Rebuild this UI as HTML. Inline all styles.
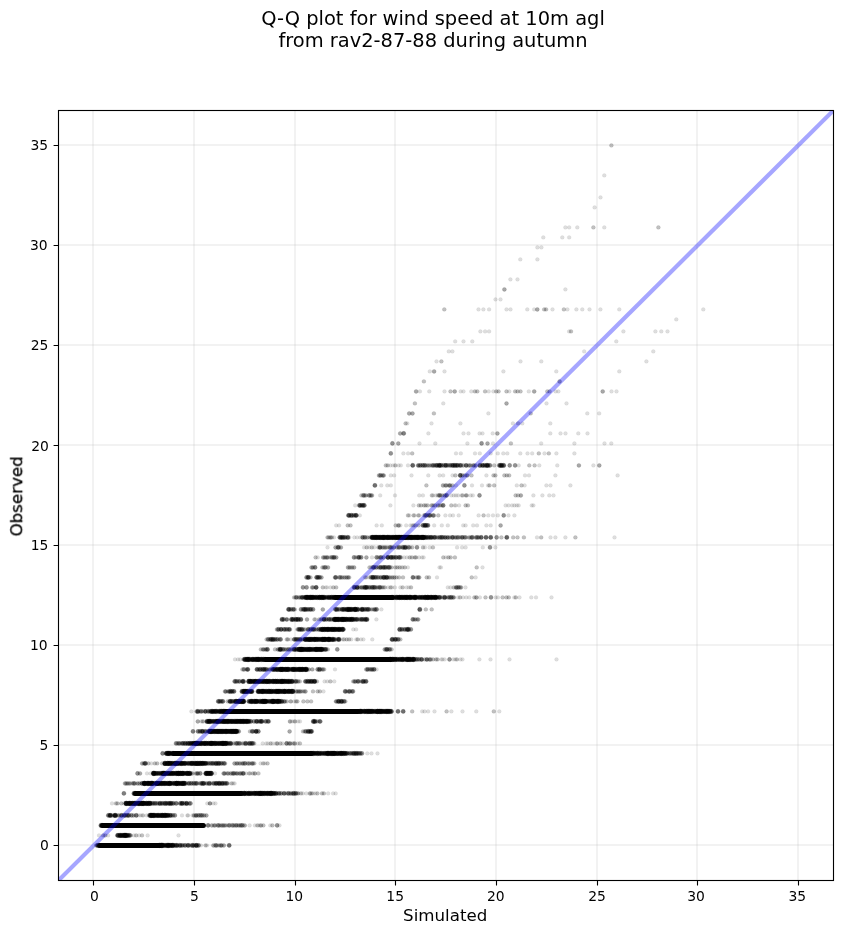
<!DOCTYPE html>
<html><head><meta charset="utf-8"><title>Q-Q plot</title>
<style>
html,body{margin:0;padding:0;background:#fff}
svg{display:block}
text{font-family:"DejaVu Sans","Liberation Sans",sans-serif;fill:#000}
.t{font-size:19.44px}
.al{font-size:16.67px}
.tl text{font-size:13.89px}
.grid path{stroke:#b0b0b0;stroke-opacity:.17;stroke-width:2;fill:none}
.tk path{stroke:#000;stroke-width:1.11;fill:none}
.pts circle{fill:#000;stroke:#000;stroke-width:.5}
.pts .s{stroke:#000;stroke-width:5;stroke-linecap:round;fill:none}
.w1{fill-opacity:0.130;stroke-opacity:0.078}.w2{fill-opacity:0.243;stroke-opacity:0.146}.w3{fill-opacity:0.341;stroke-opacity:0.205}.w4{fill-opacity:0.427;stroke-opacity:0.256}.w5{fill-opacity:0.502;stroke-opacity:0.301}.w6{fill-opacity:0.566;stroke-opacity:0.340}.w7{fill-opacity:0.623;stroke-opacity:0.374}.w8{fill-opacity:0.672;stroke-opacity:0.403}.w10{fill-opacity:0.752;stroke-opacity:0.451}.w12{fill-opacity:0.812;stroke-opacity:0.487}.w14{fill-opacity:0.858;stroke-opacity:0.515}
</style></head><body>
<svg width="843" height="934" viewBox="0 0 843 934">
<rect width="843" height="934" fill="#fff"/>
<g class="grid"><path d="M93 110.5V880.5M58.5 845H833.5"/><path d="M194 110.5V880.5M58.5 745H833.5"/><path d="M295 110.5V880.5M58.5 645H833.5"/><path d="M395 110.5V880.5M58.5 545H833.5"/><path d="M496 110.5V880.5M58.5 445H833.5"/><path d="M597 110.5V880.5M58.5 345H833.5"/><path d="M697 110.5V880.5M58.5 245H833.5"/><path d="M798 110.5V880.5M58.5 145H833.5"/></g>
<clipPath id="c"><rect x="58.5" y="110.5" width="775.0" height="770.0"/></clipPath>
<g class="pts" clip-path="url(#c)">
<g transform="translate(0,845.4)"><circle class="w3" cx="96.3" r="2.00"/><circle class="w5" cx="97.5" r="2.07"/><path class="s" d="M100.0 0H159.0"/><circle class="w8" cx="98.5" r="2.18"/><circle class="w8" cx="99.7" r="2.18"/><circle class="w8" cx="159.0" r="2.18"/><circle class="w14" cx="159.7" r="2.32"/><circle class="w14" cx="161.1" r="2.32"/><circle class="w12" cx="161.7" r="2.32"/><circle class="w12" cx="162.6" r="2.32"/><circle class="w8" cx="163.9" r="2.18"/><circle class="w6" cx="165.2" r="2.11"/><circle class="w8" cx="166.3" r="2.18"/><circle class="w10" cx="167.5" r="2.25"/><circle class="w14" cx="168.4" r="2.32"/><circle class="w8" cx="169.7" r="2.18"/><circle class="w8" cx="170.4" r="2.18"/><circle class="w6" cx="171.5" r="2.11"/><circle class="w12" cx="172.8" r="2.32"/><circle class="w4" cx="173.0" r="2.04"/><circle class="w4" cx="175.0" r="2.04"/><circle class="w8" cx="176.3" r="2.18"/><circle class="w4" cx="177.4" r="2.04"/><circle class="w8" cx="179.9" r="2.18"/><circle class="w2" cx="181.1" r="1.97"/><circle class="w4" cx="182.2" r="2.04"/><circle class="w2" cx="183.5" r="1.97"/><circle class="w6" cx="185.1" r="2.11"/><circle class="w4" cx="187.7" r="2.04"/><circle class="w5" cx="188.5" r="2.07"/><circle class="w2" cx="190.3" r="1.97"/><circle class="w8" cx="192.4" r="2.18"/><circle class="w4" cx="193.8" r="2.04"/><circle class="w5" cx="195.9" r="2.07"/><circle class="w8" cx="196.6" r="2.18"/><circle class="w4" cx="198.6" r="2.04"/><circle class="w1" cx="198.6" r="1.93"/><circle class="w1" cx="200.9" r="1.93"/><circle class="w2" cx="205.6" r="1.97"/><circle class="w1" cx="207.0" r="1.93"/><circle class="w3" cx="213.4" r="2.00"/><circle class="w4" cx="215.6" r="2.04"/><circle class="w3" cx="216.9" r="2.00"/><circle class="w2" cx="218.9" r="1.97"/><circle class="w3" cx="220.6" r="2.00"/><circle class="w3" cx="221.6" r="2.00"/><circle class="w3" cx="223.8" r="2.00"/><circle class="w6" cx="229.2" r="2.11"/></g>
<g transform="translate(0,835.4)"><circle class="w1" cx="99.0" r="1.93"/><circle class="w2" cx="103.2" r="1.97"/><circle class="w2" cx="105.3" r="1.97"/><circle class="w1" cx="108.1" r="1.93"/><circle class="w6" cx="117.5" r="2.11"/><circle class="w6" cx="118.2" r="2.11"/><circle class="w10" cx="119.9" r="2.25"/><circle class="w8" cx="120.8" r="2.18"/><circle class="w10" cx="122.1" r="2.25"/><circle class="w12" cx="124.0" r="2.32"/><circle class="w12" cx="125.1" r="2.32"/><circle class="w8" cx="125.9" r="2.18"/><circle class="w10" cx="126.8" r="2.25"/><circle class="w6" cx="128.2" r="2.11"/><circle class="w6" cx="129.6" r="2.11"/><circle class="w2" cx="130.8" r="1.97"/><circle class="w1" cx="134.0" r="1.93"/><circle class="w2" cx="136.2" r="1.97"/><circle class="w1" cx="139.2" r="1.93"/><circle class="w2" cx="142.0" r="1.97"/><circle class="w1" cx="147.6" r="1.93"/><circle class="w1" cx="178.5" r="1.93"/></g>
<g transform="translate(0,825.4)"><path class="s" d="M102.5 0H203.4"/><circle class="w8" cx="101.0" r="2.18"/><circle class="w8" cx="102.2" r="2.18"/><circle class="w5" cx="208.1" r="2.07"/><circle class="w3" cx="211.8" r="2.00"/><circle class="w3" cx="214.2" r="2.00"/><circle class="w2" cx="215.3" r="1.97"/><circle class="w4" cx="218.0" r="2.04"/><circle class="w3" cx="219.4" r="2.00"/><circle class="w3" cx="221.5" r="2.00"/><circle class="w3" cx="223.0" r="2.00"/><circle class="w3" cx="224.5" r="2.00"/><circle class="w2" cx="226.2" r="1.97"/><circle class="w2" cx="228.0" r="1.97"/><circle class="w4" cx="229.5" r="2.04"/><circle class="w4" cx="232.4" r="2.04"/><circle class="w3" cx="234.2" r="2.00"/><circle class="w4" cx="236.2" r="2.04"/><circle class="w2" cx="237.7" r="1.97"/><circle class="w3" cx="239.1" r="2.00"/><circle class="w4" cx="240.9" r="2.04"/><circle class="w4" cx="242.5" r="2.04"/><circle class="w3" cx="244.7" r="2.00"/><circle class="w1" cx="249.6" r="1.93"/><circle class="w1" cx="254.9" r="1.93"/><circle class="w2" cx="257.4" r="1.97"/><circle class="w1" cx="259.2" r="1.93"/><circle class="w3" cx="260.9" r="2.00"/><circle class="w2" cx="263.4" r="1.97"/><circle class="w1" cx="270.3" r="1.93"/><circle class="w2" cx="272.4" r="1.97"/><circle class="w4" cx="277.1" r="2.04"/><circle class="w1" cx="279.5" r="1.93"/></g>
<g transform="translate(0,815.4)"><circle class="w6" cx="108.4" r="2.11"/><circle class="w6" cx="110.0" r="2.11"/><circle class="w6" cx="110.4" r="2.11"/><circle class="w3" cx="111.8" r="2.00"/><circle class="w3" cx="113.9" r="2.00"/><circle class="w8" cx="114.9" r="2.18"/><circle class="w8" cx="115.6" r="2.18"/><circle class="w2" cx="117.8" r="1.97"/><circle class="w3" cx="119.2" r="2.00"/><circle class="w6" cx="121.4" r="2.11"/><circle class="w2" cx="122.1" r="1.97"/><circle class="w6" cx="124.3" r="2.11"/><circle class="w4" cx="125.6" r="2.04"/><circle class="w5" cx="127.5" r="2.07"/><circle class="w6" cx="128.8" r="2.11"/><circle class="w4" cx="131.5" r="2.04"/><circle class="w3" cx="133.5" r="2.00"/><circle class="w6" cx="136.3" r="2.11"/><circle class="w1" cx="139.0" r="1.93"/><circle class="w1" cx="140.9" r="1.93"/><circle class="w2" cx="142.9" r="1.97"/><circle class="w1" cx="146.7" r="1.93"/><circle class="w2" cx="149.0" r="1.97"/><circle class="w12" cx="150.3" r="2.32"/><circle class="w12" cx="151.4" r="2.32"/><circle class="w8" cx="152.2" r="2.18"/><circle class="w14" cx="153.4" r="2.32"/><circle class="w10" cx="154.5" r="2.25"/><circle class="w6" cx="155.8" r="2.11"/><circle class="w6" cx="156.7" r="2.11"/><circle class="w10" cx="157.8" r="2.25"/><circle class="w8" cx="158.7" r="2.18"/><circle class="w10" cx="160.2" r="2.25"/><circle class="w8" cx="162.0" r="2.18"/><circle class="w12" cx="162.3" r="2.32"/><circle class="w10" cx="164.3" r="2.25"/><circle class="w14" cx="165.3" r="2.32"/><circle class="w6" cx="166.7" r="2.11"/><circle class="w8" cx="167.8" r="2.18"/><circle class="w6" cx="168.3" r="2.11"/><circle class="w6" cx="170.2" r="2.11"/><circle class="w4" cx="171.0" r="2.04"/><circle class="w4" cx="172.9" r="2.04"/><circle class="w4" cx="174.9" r="2.04"/><circle class="w1" cx="182.0" r="1.93"/><circle class="w1" cx="187.4" r="1.93"/><circle class="w1" cx="188.1" r="1.93"/><circle class="w1" cx="192.5" r="1.93"/><circle class="w3" cx="194.0" r="2.00"/><circle class="w3" cx="195.9" r="2.00"/><circle class="w3" cx="196.2" r="2.00"/><circle class="w4" cx="198.3" r="2.04"/><circle class="w4" cx="200.4" r="2.04"/><circle class="w4" cx="202.1" r="2.04"/><circle class="w3" cx="204.1" r="2.00"/><circle class="w3" cx="206.4" r="2.00"/></g>
<g transform="translate(0,803.4)"><circle class="w1" cx="112.0" r="1.93"/><circle class="w2" cx="116.0" r="1.97"/><circle class="w2" cx="117.5" r="1.97"/><circle class="w2" cx="121.3" r="1.97"/><circle class="w1" cx="123.8" r="1.93"/><circle class="w12" cx="126.0" r="2.32"/><circle class="w10" cx="126.7" r="2.25"/><circle class="w8" cx="128.4" r="2.18"/><circle class="w8" cx="129.6" r="2.18"/><circle class="w12" cx="129.9" r="2.32"/><circle class="w8" cx="131.1" r="2.18"/><circle class="w6" cx="132.5" r="2.11"/><circle class="w12" cx="132.9" r="2.32"/><circle class="w10" cx="134.5" r="2.25"/><circle class="w14" cx="135.4" r="2.32"/><circle class="w8" cx="137.4" r="2.18"/><circle class="w14" cx="138.6" r="2.32"/><circle class="w12" cx="139.4" r="2.32"/><circle class="w8" cx="140.7" r="2.18"/><circle class="w14" cx="141.7" r="2.32"/><circle class="w14" cx="142.9" r="2.32"/><circle class="w14" cx="143.6" r="2.32"/><circle class="w6" cx="145.1" r="2.11"/><circle class="w8" cx="146.4" r="2.18"/><circle class="w10" cx="146.8" r="2.25"/><circle class="w12" cx="148.6" r="2.32"/><circle class="w14" cx="150.1" r="2.32"/><circle class="w2" cx="152.0" r="1.97"/><circle class="w6" cx="153.1" r="2.11"/><circle class="w6" cx="155.1" r="2.11"/><circle class="w4" cx="157.0" r="2.04"/><circle class="w3" cx="159.0" r="2.00"/><circle class="w8" cx="160.1" r="2.18"/><circle class="w5" cx="162.1" r="2.07"/><circle class="w4" cx="163.8" r="2.04"/><circle class="w8" cx="165.4" r="2.18"/><circle class="w4" cx="166.7" r="2.04"/><circle class="w4" cx="168.2" r="2.04"/><circle class="w5" cx="169.2" r="2.07"/><circle class="w8" cx="170.5" r="2.18"/><circle class="w5" cx="171.7" r="2.07"/><circle class="w5" cx="173.4" r="2.07"/><circle class="w6" cx="176.2" r="2.11"/><circle class="w6" cx="180.3" r="2.11"/><circle class="w5" cx="181.8" r="2.07"/><circle class="w6" cx="182.4" r="2.11"/><circle class="w4" cx="184.4" r="2.04"/><circle class="w3" cx="186.5" r="2.00"/><circle class="w8" cx="186.7" r="2.18"/><circle class="w3" cx="189.3" r="2.00"/><circle class="w4" cx="190.5" r="2.04"/><circle class="w1" cx="207.3" r="1.93"/><circle class="w2" cx="209.9" r="1.97"/><circle class="w2" cx="210.1" r="1.97"/><circle class="w1" cx="213.3" r="1.93"/><circle class="w1" cx="215.5" r="1.93"/></g>
<g transform="translate(0,793.4)"><circle class="w5" cx="123.9" r="2.07"/><path class="s" d="M135.5 0H241.0"/><circle class="w8" cx="134.0" r="2.18"/><circle class="w8" cx="135.2" r="2.18"/><circle class="w10" cx="241.0" r="2.25"/><circle class="w8" cx="242.1" r="2.18"/><circle class="w10" cx="244.1" r="2.25"/><circle class="w12" cx="244.5" r="2.32"/><circle class="w10" cx="246.5" r="2.25"/><circle class="w6" cx="248.1" r="2.11"/><circle class="w10" cx="248.6" r="2.25"/><circle class="w10" cx="249.9" r="2.25"/><circle class="w10" cx="251.2" r="2.25"/><circle class="w6" cx="252.7" r="2.11"/><circle class="w14" cx="254.3" r="2.32"/><circle class="w6" cx="255.6" r="2.11"/><circle class="w14" cx="256.9" r="2.32"/><circle class="w10" cx="258.5" r="2.25"/><circle class="w14" cx="259.9" r="2.32"/><circle class="w10" cx="260.4" r="2.25"/><circle class="w10" cx="261.3" r="2.25"/><circle class="w12" cx="262.4" r="2.32"/><circle class="w8" cx="263.8" r="2.18"/><circle class="w14" cx="264.8" r="2.32"/><circle class="w8" cx="266.7" r="2.18"/><circle class="w12" cx="267.7" r="2.32"/><circle class="w8" cx="269.0" r="2.18"/><circle class="w6" cx="269.8" r="2.11"/><circle class="w14" cx="270.8" r="2.32"/><circle class="w12" cx="271.5" r="2.32"/><circle class="w8" cx="273.3" r="2.18"/><circle class="w6" cx="274.0" r="2.11"/><circle class="w4" cx="275.1" r="2.04"/><circle class="w8" cx="276.2" r="2.18"/><circle class="w2" cx="278.5" r="1.97"/><circle class="w5" cx="279.2" r="2.07"/><circle class="w4" cx="281.2" r="2.04"/><circle class="w2" cx="283.6" r="1.97"/><circle class="w5" cx="284.3" r="2.07"/><circle class="w2" cx="286.5" r="1.97"/><circle class="w6" cx="288.4" r="2.11"/><circle class="w3" cx="290.4" r="2.00"/><circle class="w3" cx="291.5" r="2.00"/><circle class="w8" cx="293.6" r="2.18"/><circle class="w5" cx="295.6" r="2.07"/><circle class="w2" cx="296.7" r="1.97"/><circle class="w2" cx="298.0" r="1.97"/><circle class="w1" cx="298.5" r="1.93"/><circle class="w2" cx="301.0" r="1.97"/><circle class="w1" cx="302.9" r="1.93"/><circle class="w1" cx="306.3" r="1.93"/><circle class="w3" cx="310.0" r="2.00"/><circle class="w2" cx="311.7" r="1.97"/><circle class="w1" cx="313.3" r="1.93"/><circle class="w1" cx="315.4" r="1.93"/><circle class="w2" cx="317.4" r="1.97"/><circle class="w2" cx="322.0" r="1.97"/><circle class="w2" cx="323.9" r="1.97"/><circle class="w1" cx="328.2" r="1.93"/><circle class="w1" cx="333.1" r="1.93"/><circle class="w1" cx="335.7" r="1.93"/></g>
<g transform="translate(0,783.4)"><circle class="w3" cx="125.0" r="2.00"/><circle class="w3" cx="126.4" r="2.00"/><circle class="w3" cx="128.0" r="2.00"/><circle class="w3" cx="129.8" r="2.00"/><circle class="w2" cx="131.9" r="1.97"/><circle class="w4" cx="133.7" r="2.04"/><circle class="w3" cx="134.9" r="2.00"/><circle class="w3" cx="137.5" r="2.00"/><circle class="w3" cx="139.4" r="2.00"/><circle class="w3" cx="141.6" r="2.00"/><circle class="w4" cx="142.2" r="2.04"/><circle class="w4" cx="144.0" r="2.04"/><circle class="w12" cx="144.4" r="2.32"/><circle class="w10" cx="144.5" r="2.25"/><circle class="w6" cx="145.8" r="2.11"/><circle class="w12" cx="147.3" r="2.32"/><circle class="w12" cx="148.5" r="2.32"/><circle class="w8" cx="149.3" r="2.18"/><circle class="w8" cx="150.6" r="2.18"/><circle class="w12" cx="151.5" r="2.32"/><circle class="w12" cx="152.1" r="2.32"/><circle class="w6" cx="152.6" r="2.11"/><circle class="w8" cx="154.1" r="2.18"/><circle class="w10" cx="156.1" r="2.25"/><circle class="w14" cx="156.8" r="2.32"/><circle class="w10" cx="158.0" r="2.25"/><circle class="w14" cx="159.1" r="2.32"/><circle class="w6" cx="160.9" r="2.11"/><circle class="w12" cx="161.4" r="2.32"/><circle class="w12" cx="163.0" r="2.32"/><circle class="w12" cx="164.8" r="2.32"/><circle class="w6" cx="165.3" r="2.11"/><circle class="w8" cx="167.0" r="2.18"/><circle class="w10" cx="167.9" r="2.25"/><circle class="w14" cx="169.5" r="2.32"/><circle class="w8" cx="169.9" r="2.18"/><circle class="w6" cx="170.8" r="2.11"/><circle class="w8" cx="172.4" r="2.18"/><circle class="w6" cx="174.2" r="2.11"/><circle class="w6" cx="174.5" r="2.11"/><circle class="w12" cx="176.4" r="2.32"/><circle class="w12" cx="176.7" r="2.32"/><circle class="w14" cx="178.4" r="2.32"/><circle class="w6" cx="179.9" r="2.11"/><circle class="w10" cx="181.0" r="2.25"/><circle class="w10" cx="182.3" r="2.25"/><circle class="w8" cx="183.2" r="2.18"/><circle class="w14" cx="184.2" r="2.32"/><circle class="w4" cx="186.0" r="2.04"/><circle class="w3" cx="188.1" r="2.00"/><circle class="w5" cx="189.4" r="2.07"/><circle class="w5" cx="191.4" r="2.07"/><circle class="w5" cx="193.6" r="2.07"/><circle class="w4" cx="195.3" r="2.04"/><circle class="w6" cx="196.7" r="2.11"/><circle class="w2" cx="199.3" r="1.97"/><circle class="w5" cx="201.1" r="2.07"/><circle class="w8" cx="202.7" r="2.18"/><circle class="w6" cx="204.0" r="2.11"/><circle class="w2" cx="206.1" r="1.97"/><circle class="w3" cx="207.3" r="2.00"/><circle class="w8" cx="209.3" r="2.18"/><circle class="w2" cx="211.2" r="1.97"/><circle class="w4" cx="213.4" r="2.04"/><circle class="w3" cx="214.5" r="2.00"/><circle class="w5" cx="215.9" r="2.07"/><circle class="w5" cx="216.6" r="2.07"/><circle class="w6" cx="218.5" r="2.11"/><circle class="w8" cx="219.7" r="2.18"/><circle class="w8" cx="222.0" r="2.18"/><circle class="w4" cx="223.4" r="2.04"/><circle class="w5" cx="225.1" r="2.07"/><circle class="w4" cx="226.6" r="2.04"/><circle class="w2" cx="227.0" r="1.97"/><circle class="w1" cx="228.1" r="1.93"/><circle class="w2" cx="231.6" r="1.97"/><circle class="w1" cx="233.3" r="1.93"/><circle class="w1" cx="234.6" r="1.93"/></g>
<g transform="translate(0,773.4)"><circle class="w4" cx="137.5" r="2.04"/><circle class="w3" cx="140.0" r="2.00"/><circle class="w1" cx="147.0" r="1.93"/><circle class="w1" cx="150.6" r="1.93"/><circle class="w14" cx="153.5" r="2.32"/><circle class="w12" cx="154.1" r="2.32"/><circle class="w8" cx="155.9" r="2.18"/><circle class="w6" cx="157.0" r="2.11"/><circle class="w6" cx="158.2" r="2.11"/><circle class="w6" cx="159.6" r="2.11"/><circle class="w8" cx="161.1" r="2.18"/><circle class="w14" cx="162.6" r="2.32"/><circle class="w12" cx="163.7" r="2.32"/><circle class="w12" cx="164.2" r="2.32"/><circle class="w10" cx="165.7" r="2.25"/><circle class="w8" cx="166.7" r="2.18"/><circle class="w6" cx="167.8" r="2.11"/><circle class="w12" cx="168.9" r="2.32"/><circle class="w10" cx="170.4" r="2.25"/><circle class="w8" cx="171.5" r="2.18"/><circle class="w12" cx="172.9" r="2.32"/><circle class="w6" cx="173.7" r="2.11"/><circle class="w8" cx="175.3" r="2.18"/><circle class="w12" cx="176.5" r="2.32"/><circle class="w12" cx="178.1" r="2.32"/><circle class="w12" cx="178.5" r="2.32"/><circle class="w14" cx="180.2" r="2.32"/><circle class="w8" cx="180.7" r="2.18"/><circle class="w14" cx="182.2" r="2.32"/><circle class="w12" cx="183.1" r="2.32"/><circle class="w6" cx="184.5" r="2.11"/><circle class="w6" cx="186.1" r="2.11"/><circle class="w12" cx="187.1" r="2.32"/><circle class="w8" cx="188.0" r="2.18"/><circle class="w8" cx="189.2" r="2.18"/><circle class="w10" cx="189.8" r="2.25"/><circle class="w3" cx="190.5" r="2.00"/><circle class="w3" cx="192.2" r="2.00"/><circle class="w3" cx="196.0" r="2.00"/><circle class="w3" cx="197.3" r="2.00"/><circle class="w3" cx="198.1" r="2.00"/><circle class="w4" cx="200.3" r="2.04"/><circle class="w8" cx="205.8" r="2.18"/><circle class="w14" cx="206.7" r="2.32"/><circle class="w12" cx="208.1" r="2.32"/><circle class="w6" cx="209.1" r="2.11"/><circle class="w12" cx="210.1" r="2.32"/><circle class="w12" cx="211.3" r="2.32"/><circle class="w1" cx="215.0" r="1.93"/><circle class="w3" cx="223.6" r="2.00"/><circle class="w3" cx="224.6" r="2.00"/><circle class="w2" cx="226.9" r="1.97"/><circle class="w3" cx="228.2" r="2.00"/><circle class="w3" cx="230.7" r="2.00"/><circle class="w3" cx="232.5" r="2.00"/><circle class="w4" cx="233.7" r="2.04"/><circle class="w2" cx="235.1" r="1.97"/><circle class="w2" cx="236.3" r="1.97"/><circle class="w3" cx="237.3" r="2.00"/><circle class="w3" cx="239.6" r="2.00"/><circle class="w3" cx="241.0" r="2.00"/><circle class="w4" cx="242.9" r="2.04"/><circle class="w3" cx="243.6" r="2.00"/><circle class="w1" cx="246.0" r="1.93"/><circle class="w2" cx="249.1" r="1.97"/><circle class="w1" cx="250.3" r="1.93"/><circle class="w2" cx="252.9" r="1.97"/><circle class="w3" cx="254.9" r="2.00"/><circle class="w1" cx="258.1" r="1.93"/><circle class="w1" cx="258.7" r="1.93"/></g>
<g transform="translate(0,763.4)"><circle class="w3" cx="142.2" r="2.00"/><circle class="w2" cx="143.9" r="1.97"/><circle class="w3" cx="144.7" r="2.00"/><circle class="w6" cx="145.5" r="2.11"/><circle class="w2" cx="148.4" r="1.97"/><circle class="w1" cx="151.3" r="1.93"/><circle class="w2" cx="154.8" r="1.97"/><circle class="w2" cx="157.2" r="1.97"/><circle class="w2" cx="162.2" r="1.97"/><circle class="w10" cx="164.9" r="2.25"/><circle class="w10" cx="165.1" r="2.25"/><circle class="w10" cx="167.3" r="2.25"/><circle class="w14" cx="168.1" r="2.32"/><circle class="w14" cx="169.8" r="2.32"/><circle class="w8" cx="171.0" r="2.18"/><circle class="w8" cx="172.1" r="2.18"/><circle class="w8" cx="172.9" r="2.18"/><circle class="w10" cx="174.9" r="2.25"/><circle class="w14" cx="175.5" r="2.32"/><circle class="w14" cx="177.0" r="2.32"/><circle class="w6" cx="178.1" r="2.11"/><circle class="w8" cx="179.2" r="2.18"/><circle class="w8" cx="180.4" r="2.18"/><circle class="w14" cx="181.7" r="2.32"/><circle class="w6" cx="182.9" r="2.11"/><circle class="w8" cx="184.2" r="2.18"/><circle class="w6" cx="184.9" r="2.11"/><circle class="w6" cx="185.7" r="2.11"/><circle class="w6" cx="187.6" r="2.11"/><circle class="w8" cx="189.0" r="2.18"/><circle class="w6" cx="190.5" r="2.11"/><circle class="w12" cx="191.9" r="2.32"/><circle class="w6" cx="192.4" r="2.11"/><circle class="w6" cx="193.9" r="2.11"/><circle class="w10" cx="195.1" r="2.25"/><circle class="w8" cx="195.8" r="2.18"/><circle class="w10" cx="197.0" r="2.25"/><circle class="w10" cx="197.8" r="2.25"/><circle class="w10" cx="199.1" r="2.25"/><circle class="w12" cx="200.4" r="2.32"/><circle class="w6" cx="201.9" r="2.11"/><circle class="w14" cx="202.8" r="2.32"/><circle class="w6" cx="204.4" r="2.11"/><circle class="w6" cx="205.5" r="2.11"/><circle class="w5" cx="206.0" r="2.07"/><circle class="w2" cx="206.8" r="1.97"/><circle class="w5" cx="208.2" r="2.07"/><circle class="w5" cx="210.4" r="2.07"/><circle class="w6" cx="212.2" r="2.11"/><circle class="w4" cx="213.6" r="2.04"/><circle class="w3" cx="215.5" r="2.00"/><circle class="w8" cx="216.2" r="2.18"/><circle class="w8" cx="218.4" r="2.18"/><circle class="w4" cx="219.7" r="2.04"/><circle class="w5" cx="221.5" r="2.07"/><circle class="w5" cx="223.8" r="2.07"/><circle class="w3" cx="225.0" r="2.00"/><circle class="w3" cx="234.5" r="2.00"/><circle class="w3" cx="236.7" r="2.00"/><circle class="w2" cx="238.0" r="1.97"/><circle class="w3" cx="239.9" r="2.00"/><circle class="w3" cx="242.2" r="2.00"/><circle class="w3" cx="243.6" r="2.00"/><circle class="w4" cx="245.1" r="2.04"/><circle class="w3" cx="247.8" r="2.00"/><circle class="w3" cx="249.4" r="2.00"/><circle class="w3" cx="251.8" r="2.00"/><circle class="w3" cx="252.9" r="2.00"/><circle class="w2" cx="254.3" r="1.97"/><circle class="w1" cx="260.6" r="1.93"/><circle class="w2" cx="263.2" r="1.97"/><circle class="w1" cx="265.0" r="1.93"/><circle class="w2" cx="267.5" r="1.97"/></g>
<g transform="translate(0,753.4)"><circle class="w5" cx="162.6" r="2.07"/><circle class="w6" cx="166.0" r="2.11"/><circle class="w12" cx="167.1" r="2.32"/><circle class="w10" cx="168.2" r="2.25"/><circle class="w14" cx="169.1" r="2.32"/><circle class="w8" cx="170.3" r="2.18"/><path class="s" d="M173.5 0H311.0"/><circle class="w8" cx="172.0" r="2.18"/><circle class="w8" cx="173.2" r="2.18"/><circle class="w14" cx="311.0" r="2.32"/><circle class="w8" cx="312.4" r="2.18"/><circle class="w14" cx="313.7" r="2.32"/><circle class="w6" cx="315.2" r="2.11"/><circle class="w6" cx="316.0" r="2.11"/><circle class="w12" cx="317.5" r="2.32"/><circle class="w10" cx="319.2" r="2.25"/><circle class="w6" cx="320.5" r="2.11"/><circle class="w8" cx="321.7" r="2.18"/><circle class="w6" cx="323.1" r="2.11"/><circle class="w6" cx="324.4" r="2.11"/><circle class="w8" cx="325.3" r="2.18"/><circle class="w8" cx="327.0" r="2.18"/><circle class="w14" cx="327.5" r="2.32"/><circle class="w12" cx="328.7" r="2.32"/><circle class="w10" cx="330.3" r="2.25"/><circle class="w12" cx="331.3" r="2.32"/><circle class="w12" cx="332.6" r="2.32"/><circle class="w14" cx="334.0" r="2.32"/><circle class="w10" cx="334.3" r="2.25"/><circle class="w6" cx="335.5" r="2.11"/><circle class="w10" cx="336.9" r="2.25"/><circle class="w10" cx="337.9" r="2.25"/><circle class="w14" cx="340.0" r="2.32"/><circle class="w12" cx="341.6" r="2.32"/><circle class="w6" cx="342.0" r="2.11"/><circle class="w12" cx="343.8" r="2.32"/><circle class="w8" cx="345.2" r="2.18"/><circle class="w5" cx="346.2" r="2.07"/><circle class="w6" cx="347.3" r="2.11"/><circle class="w5" cx="349.6" r="2.07"/><circle class="w4" cx="351.2" r="2.04"/><circle class="w5" cx="352.8" r="2.07"/><circle class="w8" cx="354.3" r="2.18"/><circle class="w8" cx="356.1" r="2.18"/><circle class="w5" cx="357.6" r="2.07"/><circle class="w4" cx="358.9" r="2.04"/><circle class="w5" cx="360.4" r="2.07"/><circle class="w4" cx="362.0" r="2.04"/><circle class="w1" cx="367.3" r="1.93"/><circle class="w1" cx="371.5" r="1.93"/><circle class="w1" cx="377.5" r="1.93"/></g>
<g transform="translate(0,743.4)"><circle class="w4" cx="176.0" r="2.04"/><circle class="w2" cx="177.2" r="1.97"/><circle class="w4" cx="178.6" r="2.04"/><circle class="w3" cx="180.0" r="2.00"/><circle class="w5" cx="182.0" r="2.07"/><circle class="w5" cx="183.4" r="2.07"/><circle class="w8" cx="185.3" r="2.18"/><circle class="w8" cx="187.7" r="2.18"/><circle class="w8" cx="189.4" r="2.18"/><circle class="w8" cx="191.0" r="2.18"/><circle class="w5" cx="192.1" r="2.07"/><circle class="w6" cx="193.0" r="2.11"/><circle class="w8" cx="193.8" r="2.18"/><circle class="w12" cx="195.3" r="2.32"/><circle class="w12" cx="196.1" r="2.32"/><circle class="w14" cx="197.1" r="2.32"/><circle class="w10" cx="198.5" r="2.25"/><circle class="w10" cx="200.1" r="2.25"/><circle class="w12" cx="201.4" r="2.32"/><circle class="w8" cx="203.2" r="2.18"/><circle class="w6" cx="204.5" r="2.11"/><circle class="w10" cx="204.8" r="2.25"/><circle class="w12" cx="206.3" r="2.32"/><circle class="w6" cx="208.1" r="2.11"/><circle class="w8" cx="208.7" r="2.18"/><circle class="w10" cx="210.2" r="2.25"/><circle class="w14" cx="211.2" r="2.32"/><circle class="w12" cx="212.1" r="2.32"/><circle class="w6" cx="213.2" r="2.11"/><circle class="w12" cx="214.7" r="2.32"/><circle class="w10" cx="216.0" r="2.25"/><circle class="w8" cx="217.4" r="2.18"/><circle class="w10" cx="219.0" r="2.25"/><circle class="w8" cx="220.0" r="2.18"/><circle class="w6" cx="221.2" r="2.11"/><circle class="w12" cx="222.2" r="2.32"/><circle class="w10" cx="223.0" r="2.25"/><circle class="w12" cx="223.9" r="2.32"/><circle class="w14" cx="225.7" r="2.32"/><circle class="w6" cx="226.1" r="2.11"/><circle class="w8" cx="227.5" r="2.18"/><circle class="w3" cx="229.2" r="2.00"/><circle class="w8" cx="230.3" r="2.18"/><circle class="w3" cx="231.5" r="2.00"/><circle class="w2" cx="233.8" r="1.97"/><circle class="w4" cx="236.1" r="2.04"/><circle class="w4" cx="237.5" r="2.04"/><circle class="w4" cx="239.3" r="2.04"/><circle class="w2" cx="240.3" r="1.97"/><circle class="w2" cx="242.5" r="1.97"/><circle class="w2" cx="244.0" r="1.97"/><circle class="w8" cx="245.7" r="2.18"/><circle class="w2" cx="247.8" r="1.97"/><circle class="w8" cx="249.7" r="2.18"/><circle class="w5" cx="251.6" r="2.07"/><circle class="w5" cx="252.8" r="2.07"/><circle class="w2" cx="254.2" r="1.97"/><circle class="w1" cx="262.7" r="1.93"/><circle class="w1" cx="266.2" r="1.93"/><circle class="w1" cx="267.9" r="1.93"/><circle class="w2" cx="270.6" r="1.97"/><circle class="w1" cx="272.6" r="1.93"/><circle class="w1" cx="275.6" r="1.93"/><circle class="w3" cx="277.2" r="2.00"/><circle class="w2" cx="280.4" r="1.97"/><circle class="w1" cx="282.6" r="1.93"/><circle class="w5" cx="286.6" r="2.07"/><circle class="w3" cx="289.0" r="2.00"/><circle class="w3" cx="290.4" r="2.00"/><circle class="w2" cx="293.1" r="1.97"/><circle class="w3" cx="294.7" r="2.00"/><circle class="w1" cx="297.6" r="1.93"/><circle class="w2" cx="299.9" r="1.97"/></g>
<g transform="translate(0,731.4)"><circle class="w5" cx="193.0" r="2.07"/><circle class="w5" cx="198.0" r="2.07"/><circle class="w5" cx="199.9" r="2.07"/><circle class="w6" cx="201.9" r="2.11"/><circle class="w6" cx="202.8" r="2.11"/><circle class="w6" cx="205.3" r="2.11"/><circle class="w2" cx="206.7" r="1.97"/><circle class="w4" cx="208.6" r="2.04"/><circle class="w8" cx="209.4" r="2.18"/><circle class="w14" cx="210.3" r="2.32"/><circle class="w12" cx="211.3" r="2.32"/><circle class="w10" cx="212.1" r="2.25"/><circle class="w6" cx="213.3" r="2.11"/><circle class="w14" cx="214.3" r="2.32"/><circle class="w14" cx="216.0" r="2.32"/><circle class="w10" cx="217.3" r="2.25"/><circle class="w12" cx="218.2" r="2.32"/><circle class="w8" cx="219.3" r="2.18"/><circle class="w12" cx="220.2" r="2.32"/><circle class="w10" cx="221.5" r="2.25"/><circle class="w12" cx="222.6" r="2.32"/><circle class="w10" cx="223.9" r="2.25"/><circle class="w14" cx="225.4" r="2.32"/><circle class="w14" cx="226.6" r="2.32"/><circle class="w8" cx="227.9" r="2.18"/><circle class="w8" cx="228.6" r="2.18"/><circle class="w14" cx="230.1" r="2.32"/><circle class="w14" cx="231.5" r="2.32"/><circle class="w12" cx="232.8" r="2.32"/><circle class="w12" cx="233.8" r="2.32"/><circle class="w14" cx="235.2" r="2.32"/><circle class="w14" cx="236.2" r="2.32"/><circle class="w6" cx="237.0" r="2.11"/><circle class="w4" cx="238.7" r="2.04"/><circle class="w2" cx="250.0" r="1.97"/><circle class="w6" cx="252.3" r="2.11"/><circle class="w2" cx="253.8" r="1.97"/><circle class="w5" cx="256.1" r="2.07"/><circle class="w6" cx="256.2" r="2.11"/><circle class="w5" cx="258.4" r="2.07"/><circle class="w3" cx="289.6" r="2.00"/><circle class="w2" cx="303.0" r="1.97"/><circle class="w2" cx="304.6" r="1.97"/><circle class="w4" cx="305.8" r="2.04"/><circle class="w8" cx="308.1" r="2.18"/><circle class="w3" cx="309.2" r="2.00"/><circle class="w8" cx="310.7" r="2.18"/><circle class="w4" cx="311.8" r="2.04"/></g>
<g transform="translate(0,721.4)"><circle class="w3" cx="197.8" r="2.00"/><circle class="w1" cx="201.2" r="1.93"/><circle class="w2" cx="202.6" r="1.97"/><circle class="w1" cx="203.7" r="1.93"/><circle class="w10" cx="207.1" r="2.25"/><circle class="w6" cx="208.2" r="2.11"/><circle class="w12" cx="209.3" r="2.32"/><circle class="w8" cx="210.4" r="2.18"/><circle class="w6" cx="211.8" r="2.11"/><circle class="w6" cx="213.1" r="2.11"/><circle class="w6" cx="213.9" r="2.11"/><circle class="w8" cx="215.5" r="2.18"/><circle class="w12" cx="217.0" r="2.32"/><circle class="w12" cx="218.1" r="2.32"/><circle class="w8" cx="219.4" r="2.18"/><circle class="w8" cx="220.9" r="2.18"/><circle class="w8" cx="222.0" r="2.18"/><circle class="w8" cx="223.2" r="2.18"/><circle class="w12" cx="224.0" r="2.32"/><circle class="w10" cx="225.2" r="2.25"/><circle class="w8" cx="226.5" r="2.18"/><circle class="w12" cx="227.4" r="2.32"/><circle class="w14" cx="228.9" r="2.32"/><circle class="w8" cx="230.5" r="2.18"/><circle class="w6" cx="231.6" r="2.11"/><circle class="w10" cx="232.1" r="2.25"/><circle class="w8" cx="233.3" r="2.18"/><circle class="w10" cx="234.7" r="2.25"/><circle class="w10" cx="235.9" r="2.25"/><circle class="w12" cx="237.2" r="2.32"/><circle class="w8" cx="238.4" r="2.18"/><circle class="w14" cx="240.0" r="2.32"/><circle class="w6" cx="240.6" r="2.11"/><circle class="w14" cx="242.0" r="2.32"/><circle class="w14" cx="243.5" r="2.32"/><circle class="w8" cx="244.8" r="2.18"/><circle class="w14" cx="246.2" r="2.32"/><circle class="w8" cx="247.5" r="2.18"/><circle class="w8" cx="248.3" r="2.18"/><circle class="w6" cx="249.3" r="2.11"/><circle class="w6" cx="250.9" r="2.11"/><circle class="w4" cx="254.0" r="2.04"/><circle class="w5" cx="256.3" r="2.07"/><circle class="w5" cx="257.0" r="2.07"/><circle class="w3" cx="258.6" r="2.00"/><circle class="w4" cx="260.1" r="2.04"/><circle class="w6" cx="261.1" r="2.11"/><circle class="w6" cx="262.0" r="2.11"/><circle class="w2" cx="265.1" r="1.97"/><circle class="w4" cx="266.0" r="2.04"/><circle class="w6" cx="268.1" r="2.11"/><circle class="w2" cx="269.0" r="1.97"/><circle class="w3" cx="290.0" r="2.00"/><circle class="w1" cx="292.1" r="1.93"/><circle class="w1" cx="294.0" r="1.93"/><circle class="w2" cx="295.2" r="1.97"/><circle class="w1" cx="298.2" r="1.93"/><circle class="w1" cx="300.0" r="1.93"/><circle class="w8" cx="313.4" r="2.18"/><circle class="w8" cx="314.7" r="2.18"/><circle class="w2" cx="316.1" r="1.97"/><circle class="w2" cx="317.5" r="1.97"/><circle class="w4" cx="319.7" r="2.04"/><circle class="w3" cx="320.4" r="2.00"/></g>
<g transform="translate(0,711.4)"><circle class="w1" cx="191.4" r="1.93"/><circle class="w3" cx="196.6" r="2.00"/><circle class="w8" cx="197.9" r="2.18"/><circle class="w2" cx="199.9" r="1.97"/><circle class="w5" cx="201.3" r="2.07"/><circle class="w2" cx="203.2" r="1.97"/><circle class="w4" cx="205.1" r="2.04"/><circle class="w4" cx="205.7" r="2.04"/><circle class="w6" cx="208.2" r="2.11"/><circle class="w5" cx="210.2" r="2.07"/><circle class="w6" cx="211.2" r="2.11"/><circle class="w10" cx="212.2" r="2.25"/><circle class="w6" cx="213.0" r="2.11"/><circle class="w6" cx="214.1" r="2.11"/><circle class="w6" cx="214.9" r="2.11"/><circle class="w12" cx="216.1" r="2.32"/><circle class="w6" cx="218.0" r="2.11"/><circle class="w6" cx="219.3" r="2.11"/><circle class="w10" cx="220.0" r="2.25"/><circle class="w14" cx="221.5" r="2.32"/><circle class="w6" cx="222.4" r="2.11"/><circle class="w12" cx="223.8" r="2.32"/><path class="s" d="M225.5 0H358.0"/><circle class="w8" cx="224.0" r="2.18"/><circle class="w8" cx="225.2" r="2.18"/><circle class="w6" cx="358.0" r="2.11"/><circle class="w6" cx="359.2" r="2.11"/><circle class="w14" cx="360.3" r="2.32"/><circle class="w14" cx="361.1" r="2.32"/><circle class="w6" cx="362.4" r="2.11"/><circle class="w12" cx="364.2" r="2.32"/><circle class="w6" cx="364.9" r="2.11"/><circle class="w12" cx="366.3" r="2.32"/><circle class="w12" cx="367.8" r="2.32"/><circle class="w12" cx="368.9" r="2.32"/><circle class="w12" cx="370.1" r="2.32"/><circle class="w8" cx="371.3" r="2.18"/><circle class="w14" cx="372.2" r="2.32"/><circle class="w6" cx="373.7" r="2.11"/><circle class="w8" cx="374.8" r="2.18"/><circle class="w10" cx="376.0" r="2.25"/><circle class="w10" cx="377.6" r="2.25"/><circle class="w14" cx="377.7" r="2.32"/><circle class="w12" cx="379.3" r="2.32"/><circle class="w12" cx="380.3" r="2.32"/><circle class="w14" cx="381.6" r="2.32"/><circle class="w8" cx="382.8" r="2.18"/><circle class="w8" cx="383.7" r="2.18"/><circle class="w10" cx="385.0" r="2.25"/><circle class="w12" cx="386.3" r="2.32"/><circle class="w8" cx="387.5" r="2.18"/><circle class="w12" cx="388.2" r="2.32"/><circle class="w12" cx="389.9" r="2.32"/><circle class="w8" cx="391.4" r="2.18"/><circle class="w6" cx="398.0" r="2.11"/><circle class="w6" cx="403.2" r="2.11"/><circle class="w2" cx="412.2" r="1.97"/><circle class="w1" cx="422.2" r="1.93"/><circle class="w1" cx="424.6" r="1.93"/><circle class="w1" cx="428.1" r="1.93"/><circle class="w1" cx="434.5" r="1.93"/><circle class="w2" cx="446.6" r="1.97"/><circle class="w1" cx="451.4" r="1.93"/><circle class="w1" cx="462.5" r="1.93"/><circle class="w1" cx="476.3" r="1.93"/><circle class="w2" cx="493.8" r="1.97"/><circle class="w1" cx="499.3" r="1.93"/></g>
<g transform="translate(0,701.4)"><circle class="w6" cx="218.3" r="2.11"/><circle class="w5" cx="219.6" r="2.07"/><circle class="w4" cx="221.3" r="2.04"/><circle class="w6" cx="222.8" r="2.11"/><circle class="w2" cx="227.6" r="1.97"/><circle class="w5" cx="229.7" r="2.07"/><circle class="w6" cx="230.5" r="2.11"/><circle class="w6" cx="231.8" r="2.11"/><circle class="w4" cx="233.4" r="2.04"/><circle class="w8" cx="235.3" r="2.18"/><circle class="w12" cx="236.3" r="2.32"/><circle class="w6" cx="238.4" r="2.11"/><circle class="w12" cx="238.9" r="2.32"/><circle class="w10" cx="240.0" r="2.25"/><circle class="w14" cx="241.6" r="2.32"/><circle class="w12" cx="242.8" r="2.32"/><circle class="w14" cx="243.6" r="2.32"/><circle class="w6" cx="248.8" r="2.11"/><circle class="w6" cx="250.1" r="2.11"/><circle class="w14" cx="251.3" r="2.32"/><circle class="w8" cx="252.5" r="2.18"/><circle class="w12" cx="254.3" r="2.32"/><circle class="w14" cx="256.0" r="2.32"/><circle class="w6" cx="256.8" r="2.11"/><circle class="w6" cx="257.6" r="2.11"/><circle class="w6" cx="259.2" r="2.11"/><circle class="w10" cx="260.3" r="2.25"/><circle class="w12" cx="262.3" r="2.32"/><circle class="w14" cx="263.2" r="2.32"/><circle class="w12" cx="264.5" r="2.32"/><circle class="w14" cx="265.3" r="2.32"/><circle class="w6" cx="266.2" r="2.11"/><circle class="w6" cx="267.0" r="2.11"/><circle class="w6" cx="268.7" r="2.11"/><circle class="w6" cx="269.9" r="2.11"/><circle class="w8" cx="271.4" r="2.18"/><circle class="w14" cx="272.5" r="2.32"/><circle class="w14" cx="273.4" r="2.32"/><circle class="w8" cx="274.2" r="2.18"/><circle class="w8" cx="275.3" r="2.18"/><circle class="w6" cx="276.8" r="2.11"/><circle class="w14" cx="277.5" r="2.32"/><circle class="w12" cx="278.9" r="2.32"/><circle class="w6" cx="280.0" r="2.11"/><circle class="w8" cx="281.7" r="2.18"/><circle class="w1" cx="282.0" r="1.93"/><circle class="w3" cx="283.9" r="2.00"/><circle class="w3" cx="284.9" r="2.00"/><circle class="w2" cx="286.8" r="1.97"/><circle class="w2" cx="290.6" r="1.97"/><circle class="w1" cx="291.2" r="1.93"/><circle class="w1" cx="294.0" r="1.93"/><circle class="w2" cx="296.0" r="1.97"/><circle class="w2" cx="297.4" r="1.97"/><circle class="w2" cx="303.4" r="1.97"/><circle class="w2" cx="307.4" r="1.97"/><circle class="w2" cx="311.1" r="1.97"/><circle class="w2" cx="335.8" r="1.97"/><circle class="w3" cx="336.5" r="2.00"/><circle class="w5" cx="338.2" r="2.07"/><circle class="w6" cx="339.0" r="2.11"/><circle class="w8" cx="341.2" r="2.18"/><circle class="w4" cx="342.2" r="2.04"/><circle class="w5" cx="344.1" r="2.07"/><circle class="w2" cx="345.4" r="1.97"/></g>
<g transform="translate(0,691.4)"><circle class="w3" cx="225.0" r="2.00"/><circle class="w3" cx="225.9" r="2.00"/><circle class="w3" cx="228.1" r="2.00"/><circle class="w3" cx="229.3" r="2.00"/><circle class="w8" cx="230.5" r="2.18"/><circle class="w6" cx="232.3" r="2.11"/><circle class="w6" cx="234.0" r="2.11"/><circle class="w8" cx="242.0" r="2.18"/><circle class="w14" cx="243.6" r="2.32"/><circle class="w10" cx="244.8" r="2.25"/><circle class="w14" cx="245.9" r="2.32"/><circle class="w6" cx="247.2" r="2.11"/><circle class="w10" cx="247.9" r="2.25"/><circle class="w6" cx="249.8" r="2.11"/><circle class="w10" cx="251.0" r="2.25"/><circle class="w8" cx="252.0" r="2.18"/><circle class="w8" cx="258.0" r="2.18"/><circle class="w14" cx="259.0" r="2.32"/><circle class="w10" cx="261.1" r="2.25"/><circle class="w6" cx="262.0" r="2.11"/><circle class="w12" cx="262.5" r="2.32"/><circle class="w12" cx="263.8" r="2.32"/><circle class="w8" cx="265.6" r="2.18"/><circle class="w10" cx="266.5" r="2.25"/><circle class="w10" cx="268.2" r="2.25"/><circle class="w12" cx="269.2" r="2.32"/><circle class="w10" cx="270.9" r="2.25"/><circle class="w10" cx="271.7" r="2.25"/><circle class="w8" cx="273.3" r="2.18"/><circle class="w6" cx="274.0" r="2.11"/><circle class="w10" cx="275.6" r="2.25"/><circle class="w14" cx="276.8" r="2.32"/><circle class="w8" cx="277.8" r="2.18"/><circle class="w12" cx="278.7" r="2.32"/><circle class="w12" cx="280.0" r="2.32"/><circle class="w6" cx="281.6" r="2.11"/><circle class="w10" cx="282.7" r="2.25"/><circle class="w14" cx="284.3" r="2.32"/><circle class="w8" cx="284.9" r="2.18"/><circle class="w10" cx="286.2" r="2.25"/><circle class="w6" cx="287.9" r="2.11"/><circle class="w14" cx="288.9" r="2.32"/><circle class="w6" cx="290.0" r="2.11"/><circle class="w12" cx="291.6" r="2.32"/><circle class="w12" cx="292.9" r="2.32"/><circle class="w3" cx="296.2" r="2.00"/><circle class="w3" cx="297.7" r="2.00"/><circle class="w3" cx="299.1" r="2.00"/><circle class="w3" cx="300.5" r="2.00"/><circle class="w2" cx="302.5" r="1.97"/><circle class="w2" cx="304.1" r="1.97"/><circle class="w3" cx="305.5" r="2.00"/><circle class="w2" cx="313.0" r="1.97"/><circle class="w2" cx="317.6" r="1.97"/><circle class="w2" cx="319.9" r="1.97"/><circle class="w1" cx="323.5" r="1.93"/><circle class="w6" cx="345.2" r="2.11"/><circle class="w2" cx="346.5" r="1.97"/><circle class="w3" cx="348.6" r="2.00"/><circle class="w5" cx="349.7" r="2.07"/><circle class="w3" cx="351.9" r="2.00"/><circle class="w4" cx="353.0" r="2.04"/></g>
<g transform="translate(0,681.4)"><circle class="w4" cx="234.6" r="2.04"/><circle class="w4" cx="235.6" r="2.04"/><circle class="w4" cx="237.1" r="2.04"/><circle class="w4" cx="239.2" r="2.04"/><circle class="w2" cx="239.9" r="1.97"/><circle class="w5" cx="242.5" r="2.07"/><circle class="w8" cx="243.4" r="2.18"/><circle class="w12" cx="248.8" r="2.32"/><circle class="w14" cx="250.3" r="2.32"/><circle class="w6" cx="251.3" r="2.11"/><circle class="w10" cx="252.8" r="2.25"/><circle class="w6" cx="253.7" r="2.11"/><circle class="w8" cx="254.8" r="2.18"/><circle class="w14" cx="255.7" r="2.32"/><circle class="w8" cx="257.7" r="2.18"/><circle class="w10" cx="258.5" r="2.25"/><circle class="w8" cx="259.5" r="2.18"/><circle class="w8" cx="260.8" r="2.18"/><circle class="w10" cx="262.1" r="2.25"/><circle class="w6" cx="263.3" r="2.11"/><circle class="w12" cx="264.4" r="2.32"/><circle class="w12" cx="266.3" r="2.32"/><circle class="w10" cx="267.2" r="2.25"/><circle class="w8" cx="268.4" r="2.18"/><circle class="w12" cx="269.4" r="2.32"/><circle class="w6" cx="270.8" r="2.11"/><circle class="w8" cx="272.4" r="2.18"/><circle class="w14" cx="273.3" r="2.32"/><circle class="w12" cx="275.4" r="2.32"/><circle class="w6" cx="275.8" r="2.11"/><circle class="w10" cx="277.3" r="2.25"/><circle class="w8" cx="277.8" r="2.18"/><circle class="w10" cx="279.4" r="2.25"/><circle class="w10" cx="280.8" r="2.25"/><circle class="w14" cx="281.8" r="2.32"/><circle class="w14" cx="282.9" r="2.32"/><circle class="w12" cx="284.7" r="2.32"/><circle class="w6" cx="286.0" r="2.11"/><circle class="w10" cx="287.1" r="2.25"/><circle class="w10" cx="288.5" r="2.25"/><circle class="w10" cx="289.8" r="2.25"/><circle class="w8" cx="291.5" r="2.18"/><circle class="w8" cx="292.3" r="2.18"/><circle class="w3" cx="294.7" r="2.00"/><circle class="w6" cx="296.1" r="2.11"/><circle class="w3" cx="298.1" r="2.00"/><circle class="w2" cx="299.8" r="1.97"/><circle class="w3" cx="305.1" r="2.00"/><circle class="w4" cx="305.8" r="2.04"/><circle class="w8" cx="307.6" r="2.18"/><circle class="w6" cx="309.3" r="2.11"/><circle class="w8" cx="311.0" r="2.18"/><circle class="w6" cx="312.2" r="2.11"/><circle class="w8" cx="314.2" r="2.18"/><circle class="w6" cx="314.9" r="2.11"/><circle class="w2" cx="316.9" r="1.97"/><circle class="w1" cx="324.6" r="1.93"/><circle class="w1" cx="327.3" r="1.93"/><circle class="w2" cx="330.4" r="1.97"/><circle class="w1" cx="334.3" r="1.93"/><circle class="w2" cx="353.2" r="1.97"/><circle class="w3" cx="354.4" r="2.00"/><circle class="w3" cx="355.5" r="2.00"/><circle class="w6" cx="357.9" r="2.11"/><circle class="w2" cx="359.2" r="1.97"/><circle class="w3" cx="361.9" r="2.00"/><circle class="w8" cx="363.3" r="2.18"/><circle class="w2" cx="365.1" r="1.97"/><circle class="w6" cx="366.1" r="2.11"/></g>
<g transform="translate(0,669.4)"><circle class="w2" cx="242.4" r="1.97"/><circle class="w4" cx="243.9" r="2.04"/><circle class="w2" cx="246.1" r="1.97"/><circle class="w3" cx="247.4" r="2.00"/><circle class="w5" cx="247.9" r="2.07"/><circle class="w5" cx="256.9" r="2.07"/><circle class="w2" cx="257.1" r="1.97"/><circle class="w3" cx="258.5" r="2.00"/><circle class="w8" cx="260.2" r="2.18"/><circle class="w6" cx="262.6" r="2.11"/><circle class="w8" cx="264.2" r="2.18"/><circle class="w5" cx="265.8" r="2.07"/><circle class="w3" cx="267.0" r="2.00"/><circle class="w2" cx="268.7" r="1.97"/><circle class="w3" cx="270.1" r="2.00"/><circle class="w6" cx="272.5" r="2.11"/><circle class="w8" cx="273.7" r="2.18"/><circle class="w8" cx="275.0" r="2.18"/><circle class="w6" cx="276.6" r="2.11"/><circle class="w10" cx="277.6" r="2.25"/><circle class="w6" cx="279.2" r="2.11"/><circle class="w12" cx="280.4" r="2.32"/><circle class="w10" cx="281.1" r="2.25"/><circle class="w12" cx="282.1" r="2.32"/><circle class="w12" cx="282.9" r="2.32"/><circle class="w8" cx="284.9" r="2.18"/><circle class="w12" cx="285.8" r="2.32"/><circle class="w10" cx="287.2" r="2.25"/><circle class="w14" cx="288.3" r="2.32"/><circle class="w6" cx="290.2" r="2.11"/><circle class="w6" cx="291.6" r="2.11"/><circle class="w14" cx="293.0" r="2.32"/><circle class="w10" cx="294.0" r="2.25"/><circle class="w8" cx="295.3" r="2.18"/><circle class="w10" cx="296.6" r="2.25"/><circle class="w8" cx="298.2" r="2.18"/><circle class="w12" cx="299.3" r="2.32"/><circle class="w10" cx="300.5" r="2.25"/><circle class="w14" cx="302.1" r="2.32"/><circle class="w8" cx="302.7" r="2.18"/><circle class="w8" cx="304.2" r="2.18"/><circle class="w12" cx="305.7" r="2.32"/><circle class="w10" cx="306.4" r="2.25"/><circle class="w1" cx="307.1" r="1.93"/><circle class="w3" cx="308.7" r="2.00"/><circle class="w2" cx="312.1" r="1.97"/><circle class="w1" cx="312.6" r="1.93"/><circle class="w4" cx="317.6" r="2.04"/><circle class="w8" cx="319.5" r="2.18"/><circle class="w2" cx="321.6" r="1.97"/><circle class="w3" cx="322.9" r="2.00"/><circle class="w2" cx="324.2" r="1.97"/><circle class="w1" cx="335.0" r="1.93"/><circle class="w3" cx="366.3" r="2.00"/><circle class="w5" cx="367.7" r="2.07"/><circle class="w4" cx="370.0" r="2.04"/><circle class="w3" cx="371.7" r="2.00"/><circle class="w3" cx="372.4" r="2.00"/><circle class="w6" cx="374.1" r="2.11"/><circle class="w1" cx="376.6" r="1.93"/></g>
<g transform="translate(0,659.4)"><circle class="w1" cx="235.0" r="1.93"/><circle class="w1" cx="238.0" r="1.93"/><circle class="w1" cx="240.2" r="1.93"/><circle class="w1" cx="243.2" r="1.93"/><circle class="w6" cx="244.3" r="2.11"/><circle class="w10" cx="245.2" r="2.25"/><circle class="w6" cx="246.6" r="2.11"/><circle class="w12" cx="247.3" r="2.32"/><circle class="w12" cx="248.6" r="2.32"/><circle class="w10" cx="249.8" r="2.25"/><circle class="w6" cx="251.9" r="2.11"/><circle class="w10" cx="252.8" r="2.25"/><circle class="w8" cx="253.1" r="2.18"/><circle class="w6" cx="254.7" r="2.11"/><circle class="w10" cx="255.5" r="2.25"/><circle class="w14" cx="256.9" r="2.32"/><circle class="w14" cx="258.2" r="2.32"/><circle class="w10" cx="259.0" r="2.25"/><circle class="w6" cx="260.2" r="2.11"/><circle class="w14" cx="261.5" r="2.32"/><circle class="w10" cx="263.2" r="2.25"/><path class="s" d="M265.5 0H390.0"/><circle class="w8" cx="264.0" r="2.18"/><circle class="w8" cx="265.2" r="2.18"/><circle class="w10" cx="390.0" r="2.25"/><circle class="w12" cx="390.5" r="2.32"/><circle class="w10" cx="392.1" r="2.25"/><circle class="w12" cx="392.9" r="2.32"/><circle class="w6" cx="393.8" r="2.11"/><circle class="w14" cx="395.2" r="2.32"/><circle class="w8" cx="396.7" r="2.18"/><circle class="w8" cx="397.8" r="2.18"/><circle class="w8" cx="399.5" r="2.18"/><circle class="w8" cx="400.3" r="2.18"/><circle class="w8" cx="401.9" r="2.18"/><circle class="w12" cx="402.7" r="2.32"/><circle class="w6" cx="403.9" r="2.11"/><circle class="w6" cx="405.1" r="2.11"/><circle class="w10" cx="406.7" r="2.25"/><circle class="w12" cx="407.3" r="2.32"/><circle class="w8" cx="408.6" r="2.18"/><circle class="w12" cx="409.2" r="2.32"/><circle class="w10" cx="410.5" r="2.25"/><circle class="w10" cx="412.1" r="2.25"/><circle class="w14" cx="413.5" r="2.32"/><circle class="w4" cx="414.0" r="2.04"/><circle class="w4" cx="415.6" r="2.04"/><circle class="w5" cx="417.2" r="2.07"/><circle class="w4" cx="419.1" r="2.04"/><circle class="w5" cx="421.3" r="2.07"/><circle class="w3" cx="422.0" r="2.00"/><circle class="w2" cx="424.7" r="1.97"/><circle class="w3" cx="426.7" r="2.00"/><circle class="w3" cx="427.0" r="2.00"/><circle class="w3" cx="429.4" r="2.00"/><circle class="w3" cx="430.7" r="2.00"/><circle class="w2" cx="433.0" r="1.97"/><circle class="w2" cx="436.0" r="1.97"/><circle class="w2" cx="437.5" r="1.97"/><circle class="w1" cx="441.3" r="1.93"/><circle class="w1" cx="442.5" r="1.93"/><circle class="w1" cx="444.6" r="1.93"/><circle class="w4" cx="449.5" r="2.04"/><circle class="w1" cx="453.3" r="1.93"/><circle class="w1" cx="455.3" r="1.93"/><circle class="w2" cx="456.9" r="1.97"/><circle class="w1" cx="460.5" r="1.93"/><circle class="w1" cx="462.5" r="1.93"/><circle class="w1" cx="479.4" r="1.93"/><circle class="w1" cx="490.5" r="1.93"/><circle class="w1" cx="509.5" r="1.93"/><circle class="w1" cx="556.5" r="1.93"/></g>
<g transform="translate(0,649.4)"><circle class="w2" cx="260.8" r="1.97"/><circle class="w2" cx="262.7" r="1.97"/><circle class="w3" cx="263.5" r="2.00"/><circle class="w3" cx="265.4" r="2.00"/><circle class="w2" cx="266.5" r="1.97"/><circle class="w6" cx="267.5" r="2.11"/><circle class="w2" cx="275.0" r="1.97"/><circle class="w3" cx="277.8" r="2.00"/><circle class="w2" cx="279.3" r="1.97"/><circle class="w8" cx="280.0" r="2.18"/><circle class="w6" cx="280.9" r="2.11"/><circle class="w5" cx="283.0" r="2.07"/><circle class="w3" cx="284.8" r="2.00"/><circle class="w3" cx="286.5" r="2.00"/><circle class="w4" cx="288.5" r="2.04"/><circle class="w3" cx="290.1" r="2.00"/><circle class="w2" cx="291.9" r="1.97"/><circle class="w8" cx="294.0" r="2.18"/><circle class="w4" cx="295.0" r="2.04"/><circle class="w8" cx="296.5" r="2.18"/><circle class="w6" cx="298.4" r="2.11"/><circle class="w12" cx="299.3" r="2.32"/><circle class="w12" cx="300.5" r="2.32"/><circle class="w12" cx="301.5" r="2.32"/><circle class="w14" cx="302.1" r="2.32"/><circle class="w10" cx="303.7" r="2.25"/><circle class="w8" cx="304.7" r="2.18"/><circle class="w10" cx="306.1" r="2.25"/><circle class="w10" cx="307.4" r="2.25"/><circle class="w8" cx="308.6" r="2.18"/><circle class="w14" cx="309.8" r="2.32"/><circle class="w8" cx="311.0" r="2.18"/><circle class="w8" cx="312.5" r="2.18"/><circle class="w8" cx="313.8" r="2.18"/><circle class="w6" cx="315.2" r="2.11"/><circle class="w12" cx="315.9" r="2.32"/><circle class="w10" cx="316.7" r="2.25"/><circle class="w14" cx="318.0" r="2.32"/><circle class="w6" cx="319.3" r="2.11"/><circle class="w12" cx="320.2" r="2.32"/><circle class="w12" cx="321.6" r="2.32"/><circle class="w6" cx="322.0" r="2.11"/><circle class="w4" cx="323.5" r="2.04"/><circle class="w6" cx="325.0" r="2.11"/><circle class="w5" cx="326.1" r="2.07"/><circle class="w2" cx="327.8" r="1.97"/><circle class="w4" cx="337.3" r="2.04"/><circle class="w3" cx="384.7" r="2.00"/><circle class="w4" cx="386.2" r="2.04"/><circle class="w5" cx="387.2" r="2.07"/><circle class="w2" cx="388.8" r="1.97"/><circle class="w4" cx="389.9" r="2.04"/><circle class="w2" cx="391.6" r="1.97"/></g>
<g transform="translate(0,639.4)"><circle class="w2" cx="266.6" r="1.97"/><circle class="w5" cx="268.2" r="2.07"/><circle class="w4" cx="270.1" r="2.04"/><circle class="w6" cx="271.3" r="2.11"/><circle class="w8" cx="272.8" r="2.18"/><circle class="w3" cx="273.8" r="2.00"/><circle class="w5" cx="275.3" r="2.07"/><circle class="w5" cx="277.3" r="2.07"/><circle class="w2" cx="279.4" r="1.97"/><circle class="w5" cx="280.6" r="2.07"/><circle class="w2" cx="286.8" r="1.97"/><circle class="w2" cx="288.0" r="1.97"/><circle class="w1" cx="291.0" r="1.93"/><circle class="w2" cx="293.9" r="1.97"/><circle class="w4" cx="294.5" r="2.04"/><circle class="w5" cx="296.0" r="2.07"/><circle class="w2" cx="296.6" r="1.97"/><circle class="w5" cx="298.0" r="2.07"/><circle class="w6" cx="300.0" r="2.11"/><circle class="w3" cx="301.7" r="2.00"/><circle class="w2" cx="303.1" r="1.97"/><circle class="w6" cx="305.0" r="2.11"/><circle class="w6" cx="305.0" r="2.11"/><circle class="w10" cx="306.2" r="2.25"/><circle class="w8" cx="307.8" r="2.18"/><circle class="w10" cx="308.8" r="2.25"/><circle class="w10" cx="309.8" r="2.25"/><circle class="w12" cx="311.1" r="2.32"/><circle class="w8" cx="312.3" r="2.18"/><circle class="w14" cx="314.2" r="2.32"/><circle class="w6" cx="314.7" r="2.11"/><circle class="w12" cx="316.1" r="2.32"/><circle class="w8" cx="317.4" r="2.18"/><circle class="w8" cx="318.6" r="2.18"/><circle class="w6" cx="319.7" r="2.11"/><circle class="w6" cx="320.5" r="2.11"/><circle class="w10" cx="322.1" r="2.25"/><circle class="w12" cx="322.7" r="2.32"/><circle class="w14" cx="324.1" r="2.32"/><circle class="w12" cx="325.1" r="2.32"/><circle class="w8" cx="326.0" r="2.18"/><circle class="w6" cx="327.5" r="2.11"/><circle class="w14" cx="328.6" r="2.32"/><circle class="w14" cx="329.1" r="2.32"/><circle class="w8" cx="330.6" r="2.18"/><circle class="w10" cx="332.3" r="2.25"/><circle class="w8" cx="333.6" r="2.18"/><circle class="w3" cx="334.5" r="2.00"/><circle class="w3" cx="335.6" r="2.00"/><circle class="w5" cx="338.0" r="2.07"/><circle class="w8" cx="339.0" r="2.18"/><circle class="w1" cx="339.3" r="1.93"/><circle class="w1" cx="342.5" r="1.93"/><circle class="w2" cx="344.0" r="1.97"/><circle class="w2" cx="346.7" r="1.97"/><circle class="w2" cx="349.1" r="1.97"/><circle class="w1" cx="351.3" r="1.93"/><circle class="w1" cx="356.3" r="1.93"/><circle class="w2" cx="357.7" r="1.97"/><circle class="w1" cx="361.0" r="1.93"/><circle class="w1" cx="363.4" r="1.93"/><circle class="w1" cx="372.3" r="1.93"/><circle class="w2" cx="391.6" r="1.97"/><circle class="w8" cx="392.4" r="2.18"/><circle class="w6" cx="395.1" r="2.11"/><circle class="w4" cx="396.0" r="2.04"/><circle class="w2" cx="397.6" r="1.97"/><circle class="w4" cx="398.4" r="2.04"/><circle class="w2" cx="400.4" r="1.97"/></g>
<g transform="translate(0,629.4)"><circle class="w3" cx="277.0" r="2.00"/><circle class="w6" cx="278.5" r="2.11"/><circle class="w4" cx="280.9" r="2.04"/><circle class="w4" cx="281.3" r="2.04"/><circle class="w5" cx="284.0" r="2.07"/><circle class="w4" cx="285.4" r="2.04"/><circle class="w4" cx="287.2" r="2.04"/><circle class="w5" cx="289.0" r="2.07"/><circle class="w3" cx="290.0" r="2.00"/><circle class="w2" cx="297.4" r="1.97"/><circle class="w5" cx="298.6" r="2.07"/><circle class="w6" cx="299.9" r="2.11"/><circle class="w8" cx="301.7" r="2.18"/><circle class="w3" cx="303.6" r="2.00"/><circle class="w2" cx="305.3" r="1.97"/><circle class="w5" cx="308.1" r="2.07"/><circle class="w2" cx="308.8" r="1.97"/><circle class="w5" cx="310.6" r="2.07"/><circle class="w4" cx="312.5" r="2.04"/><circle class="w6" cx="313.6" r="2.11"/><circle class="w3" cx="314.9" r="2.00"/><circle class="w3" cx="316.6" r="2.00"/><circle class="w6" cx="318.8" r="2.11"/><circle class="w2" cx="320.6" r="1.97"/><circle class="w8" cx="320.9" r="2.18"/><circle class="w8" cx="322.2" r="2.18"/><circle class="w10" cx="322.6" r="2.25"/><circle class="w14" cx="324.4" r="2.32"/><circle class="w6" cx="325.5" r="2.11"/><circle class="w8" cx="326.6" r="2.18"/><circle class="w14" cx="327.8" r="2.32"/><circle class="w8" cx="328.6" r="2.18"/><circle class="w6" cx="329.7" r="2.11"/><circle class="w8" cx="330.8" r="2.18"/><circle class="w12" cx="332.0" r="2.32"/><circle class="w10" cx="333.1" r="2.25"/><circle class="w12" cx="334.8" r="2.32"/><circle class="w8" cx="336.0" r="2.18"/><circle class="w8" cx="337.3" r="2.18"/><circle class="w8" cx="338.8" r="2.18"/><circle class="w10" cx="339.3" r="2.25"/><circle class="w6" cx="340.5" r="2.11"/><circle class="w12" cx="342.3" r="2.32"/><circle class="w6" cx="343.4" r="2.11"/><circle class="w1" cx="353.3" r="1.93"/><circle class="w1" cx="356.1" r="1.93"/><circle class="w8" cx="399.7" r="2.18"/><circle class="w5" cx="401.8" r="2.07"/><circle class="w3" cx="403.8" r="2.00"/><circle class="w4" cx="405.1" r="2.04"/><circle class="w8" cx="407.2" r="2.18"/><circle class="w8" cx="408.5" r="2.18"/><circle class="w4" cx="410.9" r="2.04"/></g>
<g transform="translate(0,619.4)"><circle class="w8" cx="282.1" r="2.18"/><circle class="w4" cx="283.6" r="2.04"/><circle class="w3" cx="286.3" r="2.00"/><circle class="w3" cx="287.1" r="2.00"/><circle class="w8" cx="291.6" r="2.18"/><circle class="w8" cx="293.0" r="2.18"/><circle class="w8" cx="295.7" r="2.18"/><circle class="w5" cx="297.0" r="2.07"/><circle class="w8" cx="298.3" r="2.18"/><circle class="w8" cx="300.8" r="2.18"/><circle class="w3" cx="307.0" r="2.00"/><circle class="w2" cx="314.5" r="1.97"/><circle class="w1" cx="315.6" r="1.93"/><circle class="w2" cx="319.1" r="1.97"/><circle class="w2" cx="320.9" r="1.97"/><circle class="w2" cx="322.1" r="1.97"/><circle class="w6" cx="323.8" r="2.11"/><circle class="w4" cx="324.4" r="2.04"/><circle class="w5" cx="326.3" r="2.07"/><circle class="w2" cx="328.0" r="1.97"/><circle class="w5" cx="329.1" r="2.07"/><circle class="w4" cx="330.5" r="2.04"/><circle class="w3" cx="332.0" r="2.00"/><circle class="w6" cx="334.0" r="2.11"/><circle class="w10" cx="334.4" r="2.25"/><circle class="w14" cx="335.6" r="2.32"/><circle class="w8" cx="336.7" r="2.18"/><circle class="w8" cx="337.3" r="2.18"/><circle class="w14" cx="338.4" r="2.32"/><circle class="w10" cx="339.9" r="2.25"/><circle class="w14" cx="341.8" r="2.32"/><circle class="w10" cx="342.4" r="2.25"/><circle class="w14" cx="343.7" r="2.32"/><circle class="w10" cx="344.9" r="2.25"/><circle class="w12" cx="346.3" r="2.32"/><circle class="w6" cx="348.0" r="2.11"/><circle class="w10" cx="349.2" r="2.25"/><circle class="w6" cx="350.2" r="2.11"/><circle class="w14" cx="351.8" r="2.32"/><circle class="w8" cx="353.3" r="2.18"/><circle class="w5" cx="355.1" r="2.07"/><circle class="w4" cx="356.3" r="2.04"/><circle class="w6" cx="357.2" r="2.11"/><circle class="w3" cx="359.2" r="2.00"/><circle class="w4" cx="360.7" r="2.04"/><circle class="w6" cx="361.9" r="2.11"/><circle class="w5" cx="363.4" r="2.07"/><circle class="w8" cx="365.5" r="2.18"/><circle class="w8" cx="366.9" r="2.18"/><circle class="w1" cx="376.4" r="1.93"/><circle class="w4" cx="412.7" r="2.04"/><circle class="w2" cx="413.6" r="1.97"/><circle class="w3" cx="415.2" r="2.00"/><circle class="w2" cx="417.0" r="1.97"/><circle class="w3" cx="418.2" r="2.00"/></g>
<g transform="translate(0,609.4)"><circle class="w6" cx="288.5" r="2.11"/><circle class="w4" cx="289.3" r="2.04"/><circle class="w4" cx="291.1" r="2.04"/><circle class="w6" cx="293.4" r="2.11"/><circle class="w2" cx="294.8" r="1.97"/><circle class="w4" cx="301.0" r="2.04"/><circle class="w4" cx="303.0" r="2.04"/><circle class="w6" cx="304.2" r="2.11"/><circle class="w8" cx="305.6" r="2.18"/><circle class="w2" cx="307.0" r="1.97"/><circle class="w5" cx="308.1" r="2.07"/><circle class="w5" cx="310.0" r="2.07"/><circle class="w4" cx="311.2" r="2.04"/><circle class="w4" cx="313.1" r="2.04"/><circle class="w3" cx="322.8" r="2.00"/><circle class="w5" cx="335.4" r="2.07"/><circle class="w8" cx="336.7" r="2.18"/><circle class="w4" cx="338.8" r="2.04"/><circle class="w2" cx="340.0" r="1.97"/><circle class="w6" cx="341.8" r="2.11"/><circle class="w6" cx="343.0" r="2.11"/><circle class="w8" cx="344.2" r="2.18"/><circle class="w6" cx="346.2" r="2.11"/><circle class="w10" cx="347.4" r="2.25"/><circle class="w10" cx="348.6" r="2.25"/><circle class="w8" cx="349.4" r="2.18"/><circle class="w10" cx="350.9" r="2.25"/><circle class="w6" cx="351.7" r="2.11"/><circle class="w6" cx="353.0" r="2.11"/><circle class="w14" cx="354.9" r="2.32"/><circle class="w10" cx="355.7" r="2.25"/><circle class="w8" cx="357.5" r="2.18"/><circle class="w3" cx="358.2" r="2.00"/><circle class="w2" cx="360.0" r="1.97"/><circle class="w8" cx="361.8" r="2.18"/><circle class="w8" cx="362.7" r="2.18"/><circle class="w6" cx="364.9" r="2.11"/><circle class="w6" cx="366.9" r="2.11"/><circle class="w6" cx="368.4" r="2.11"/><circle class="w2" cx="369.4" r="1.97"/><circle class="w2" cx="371.3" r="1.97"/><circle class="w2" cx="372.9" r="1.97"/><circle class="w3" cx="374.4" r="2.00"/><circle class="w3" cx="375.2" r="2.00"/><circle class="w5" cx="376.6" r="2.07"/><circle class="w1" cx="381.4" r="1.93"/><circle class="w8" cx="419.8" r="2.18"/><circle class="w2" cx="425.8" r="1.97"/><circle class="w2" cx="431.7" r="1.97"/></g>
<g transform="translate(0,597.4)"><circle class="w2" cx="294.1" r="1.97"/><circle class="w2" cx="295.5" r="1.97"/><circle class="w4" cx="296.5" r="2.04"/><circle class="w3" cx="298.8" r="2.00"/><circle class="w3" cx="300.4" r="2.00"/><circle class="w6" cx="302.0" r="2.11"/><circle class="w3" cx="302.6" r="2.00"/><circle class="w5" cx="304.3" r="2.07"/><circle class="w4" cx="306.0" r="2.04"/><circle class="w12" cx="306.1" r="2.32"/><circle class="w12" cx="307.5" r="2.32"/><circle class="w6" cx="308.4" r="2.11"/><circle class="w10" cx="309.9" r="2.25"/><circle class="w12" cx="310.6" r="2.32"/><circle class="w14" cx="312.1" r="2.32"/><circle class="w8" cx="313.1" r="2.18"/><circle class="w8" cx="313.9" r="2.18"/><circle class="w6" cx="315.4" r="2.11"/><circle class="w8" cx="316.0" r="2.18"/><circle class="w10" cx="317.4" r="2.25"/><circle class="w14" cx="319.4" r="2.32"/><circle class="w8" cx="320.0" r="2.18"/><circle class="w14" cx="321.8" r="2.32"/><circle class="w8" cx="322.4" r="2.18"/><circle class="w10" cx="323.6" r="2.25"/><circle class="w8" cx="324.5" r="2.18"/><circle class="w6" cx="326.1" r="2.11"/><circle class="w6" cx="327.6" r="2.11"/><circle class="w10" cx="329.0" r="2.25"/><circle class="w6" cx="330.1" r="2.11"/><circle class="w12" cx="331.8" r="2.32"/><circle class="w6" cx="333.5" r="2.11"/><path class="s" d="M335.5 0H392.0"/><circle class="w8" cx="334.0" r="2.18"/><circle class="w8" cx="335.2" r="2.18"/><circle class="w12" cx="392.0" r="2.32"/><circle class="w6" cx="392.8" r="2.11"/><circle class="w10" cx="394.2" r="2.25"/><circle class="w12" cx="396.4" r="2.32"/><circle class="w8" cx="397.6" r="2.18"/><circle class="w8" cx="399.1" r="2.18"/><circle class="w14" cx="399.5" r="2.32"/><circle class="w6" cx="400.6" r="2.11"/><circle class="w14" cx="401.8" r="2.32"/><circle class="w10" cx="403.0" r="2.25"/><circle class="w12" cx="404.5" r="2.32"/><circle class="w8" cx="405.8" r="2.18"/><circle class="w10" cx="406.3" r="2.25"/><circle class="w14" cx="407.3" r="2.32"/><circle class="w12" cx="409.5" r="2.32"/><circle class="w12" cx="410.4" r="2.32"/><circle class="w6" cx="411.7" r="2.11"/><circle class="w8" cx="412.9" r="2.18"/><circle class="w12" cx="414.5" r="2.32"/><circle class="w12" cx="415.4" r="2.32"/><circle class="w8" cx="416.7" r="2.18"/><circle class="w6" cx="418.8" r="2.11"/><circle class="w8" cx="419.8" r="2.18"/><circle class="w6" cx="421.1" r="2.11"/><circle class="w8" cx="422.2" r="2.18"/><circle class="w6" cx="422.9" r="2.11"/><circle class="w8" cx="424.8" r="2.18"/><circle class="w14" cx="425.4" r="2.32"/><circle class="w10" cx="427.5" r="2.25"/><circle class="w12" cx="428.0" r="2.32"/><circle class="w6" cx="429.1" r="2.11"/><circle class="w8" cx="430.6" r="2.18"/><circle class="w14" cx="431.5" r="2.32"/><circle class="w6" cx="433.4" r="2.11"/><circle class="w6" cx="433.5" r="2.11"/><circle class="w14" cx="435.2" r="2.32"/><circle class="w8" cx="436.0" r="2.18"/><circle class="w4" cx="437.2" r="2.04"/><circle class="w6" cx="438.9" r="2.11"/><circle class="w6" cx="440.0" r="2.11"/><circle class="w2" cx="442.4" r="1.97"/><circle class="w8" cx="444.5" r="2.18"/><circle class="w2" cx="445.4" r="1.97"/><circle class="w2" cx="447.3" r="1.97"/><circle class="w2" cx="448.4" r="1.97"/><circle class="w4" cx="449.6" r="2.04"/><circle class="w6" cx="451.3" r="2.11"/><circle class="w3" cx="453.2" r="2.00"/><circle class="w2" cx="454.0" r="1.97"/><circle class="w1" cx="458.2" r="1.93"/><circle class="w2" cx="460.1" r="1.97"/><circle class="w1" cx="463.1" r="1.93"/><circle class="w1" cx="466.3" r="1.93"/><circle class="w1" cx="469.3" r="1.93"/><circle class="w2" cx="474.4" r="1.97"/><circle class="w3" cx="476.4" r="2.00"/><circle class="w1" cx="479.9" r="1.93"/><circle class="w2" cx="485.5" r="1.97"/><circle class="w4" cx="491.0" r="2.04"/><circle class="w1" cx="495.7" r="1.93"/><circle class="w1" cx="497.9" r="1.93"/><circle class="w2" cx="502.6" r="1.97"/><circle class="w2" cx="506.4" r="1.97"/><circle class="w2" cx="508.8" r="1.97"/><circle class="w1" cx="514.3" r="1.93"/><circle class="w2" cx="515.8" r="1.97"/><circle class="w1" cx="519.5" r="1.93"/><circle class="w1" cx="531.3" r="1.93"/><circle class="w1" cx="536.0" r="1.93"/><circle class="w1" cx="551.5" r="1.93"/></g>
<g transform="translate(0,587.4)"><circle class="w4" cx="303.0" r="2.04"/><circle class="w4" cx="306.6" r="2.04"/><circle class="w3" cx="312.2" r="2.00"/><circle class="w2" cx="313.3" r="1.97"/><circle class="w3" cx="315.9" r="2.00"/><circle class="w5" cx="316.3" r="2.07"/><circle class="w2" cx="322.8" r="1.97"/><circle class="w1" cx="325.7" r="1.93"/><circle class="w1" cx="327.2" r="1.93"/><circle class="w1" cx="330.5" r="1.93"/><circle class="w2" cx="333.4" r="1.97"/><circle class="w2" cx="336.2" r="1.97"/><circle class="w5" cx="354.0" r="2.07"/><circle class="w4" cx="354.8" r="2.04"/><circle class="w8" cx="357.0" r="2.18"/><circle class="w3" cx="357.6" r="2.00"/><circle class="w3" cx="359.6" r="2.00"/><circle class="w3" cx="361.5" r="2.00"/><circle class="w3" cx="362.5" r="2.00"/><circle class="w8" cx="364.7" r="2.18"/><circle class="w6" cx="366.0" r="2.11"/><circle class="w5" cx="367.0" r="2.07"/><circle class="w4" cx="369.0" r="2.04"/><circle class="w3" cx="370.5" r="2.00"/><circle class="w5" cx="372.1" r="2.07"/><circle class="w4" cx="373.4" r="2.04"/><circle class="w5" cx="374.7" r="2.07"/><circle class="w3" cx="376.5" r="2.00"/><circle class="w2" cx="378.0" r="1.97"/><circle class="w5" cx="379.6" r="2.07"/><circle class="w2" cx="380.7" r="1.97"/><circle class="w2" cx="381.9" r="1.97"/><circle class="w2" cx="383.3" r="1.97"/><circle class="w2" cx="384.9" r="1.97"/><circle class="w1" cx="388.2" r="1.93"/><circle class="w2" cx="390.6" r="1.97"/><circle class="w1" cx="392.0" r="1.93"/><circle class="w1" cx="394.9" r="1.93"/><circle class="w1" cx="400.4" r="1.93"/><circle class="w1" cx="402.4" r="1.93"/><circle class="w1" cx="403.0" r="1.93"/><circle class="w1" cx="406.7" r="1.93"/><circle class="w1" cx="408.8" r="1.93"/><circle class="w2" cx="411.0" r="1.97"/><circle class="w1" cx="447.8" r="1.93"/><circle class="w1" cx="450.5" r="1.93"/><circle class="w2" cx="453.7" r="1.97"/><circle class="w3" cx="456.0" r="2.00"/><circle class="w3" cx="456.7" r="2.00"/><circle class="w4" cx="458.4" r="2.04"/><circle class="w2" cx="459.9" r="1.97"/><circle class="w3" cx="461.0" r="2.00"/><circle class="w1" cx="465.5" r="1.93"/></g>
<g transform="translate(0,577.4)"><circle class="w4" cx="306.5" r="2.04"/><circle class="w5" cx="307.9" r="2.07"/><circle class="w5" cx="308.7" r="2.07"/><circle class="w2" cx="310.5" r="1.97"/><circle class="w6" cx="316.6" r="2.11"/><circle class="w6" cx="318.0" r="2.11"/><circle class="w5" cx="319.6" r="2.07"/><circle class="w3" cx="321.5" r="2.00"/><circle class="w3" cx="335.0" r="2.00"/><circle class="w5" cx="335.8" r="2.07"/><circle class="w2" cx="338.9" r="1.97"/><circle class="w4" cx="340.2" r="2.04"/><circle class="w3" cx="342.1" r="2.00"/><circle class="w3" cx="344.3" r="2.00"/><circle class="w3" cx="346.4" r="2.00"/><circle class="w3" cx="348.1" r="2.00"/><circle class="w2" cx="349.2" r="1.97"/><circle class="w2" cx="365.3" r="1.97"/><circle class="w1" cx="366.6" r="1.93"/><circle class="w1" cx="369.2" r="1.93"/><circle class="w4" cx="371.0" r="2.04"/><circle class="w4" cx="372.5" r="2.04"/><circle class="w6" cx="373.0" r="2.11"/><circle class="w4" cx="374.5" r="2.04"/><circle class="w5" cx="376.0" r="2.07"/><circle class="w4" cx="378.0" r="2.04"/><circle class="w3" cx="380.2" r="2.00"/><circle class="w3" cx="381.2" r="2.00"/><circle class="w4" cx="383.2" r="2.04"/><circle class="w8" cx="384.2" r="2.18"/><circle class="w6" cx="386.5" r="2.11"/><circle class="w3" cx="386.8" r="2.00"/><circle class="w3" cx="388.1" r="2.00"/><circle class="w3" cx="389.9" r="2.00"/><circle class="w3" cx="392.2" r="2.00"/><circle class="w3" cx="394.3" r="2.00"/><circle class="w2" cx="396.5" r="1.97"/><circle class="w2" cx="399.1" r="1.97"/><circle class="w2" cx="403.0" r="1.97"/><circle class="w4" cx="412.8" r="2.04"/><circle class="w2" cx="413.5" r="1.97"/><circle class="w2" cx="416.4" r="1.97"/><circle class="w3" cx="418.0" r="2.00"/><circle class="w3" cx="419.2" r="2.00"/><circle class="w2" cx="426.7" r="1.97"/><circle class="w2" cx="429.0" r="1.97"/><circle class="w1" cx="437.0" r="1.93"/><circle class="w2" cx="471.7" r="1.97"/><circle class="w1" cx="475.6" r="1.93"/></g>
<g transform="translate(0,567.4)"><circle class="w3" cx="311.5" r="2.00"/><circle class="w3" cx="312.9" r="2.00"/><circle class="w5" cx="315.1" r="2.07"/><circle class="w2" cx="322.4" r="1.97"/><circle class="w3" cx="323.9" r="2.00"/><circle class="w4" cx="325.4" r="2.04"/><circle class="w3" cx="328.0" r="2.00"/><circle class="w3" cx="348.0" r="2.00"/><circle class="w3" cx="349.8" r="2.00"/><circle class="w3" cx="352.0" r="2.00"/><circle class="w3" cx="354.1" r="2.00"/><circle class="w2" cx="369.5" r="1.97"/><circle class="w1" cx="371.0" r="1.93"/><circle class="w5" cx="373.0" r="2.07"/><circle class="w4" cx="374.3" r="2.04"/><circle class="w4" cx="376.3" r="2.04"/><circle class="w3" cx="378.7" r="2.00"/><circle class="w5" cx="380.3" r="2.07"/><circle class="w3" cx="381.2" r="2.00"/><circle class="w6" cx="383.2" r="2.11"/><circle class="w5" cx="384.7" r="2.07"/><circle class="w4" cx="386.2" r="2.04"/><circle class="w4" cx="388.2" r="2.04"/><circle class="w5" cx="389.5" r="2.07"/><circle class="w2" cx="391.5" r="1.97"/><circle class="w2" cx="395.3" r="1.97"/><circle class="w2" cx="397.3" r="1.97"/><circle class="w2" cx="399.6" r="1.97"/><circle class="w1" cx="401.6" r="1.93"/><circle class="w1" cx="402.6" r="1.93"/><circle class="w2" cx="404.8" r="1.97"/><circle class="w1" cx="407.8" r="1.93"/><circle class="w1" cx="439.5" r="1.93"/><circle class="w1" cx="440.9" r="1.93"/><circle class="w2" cx="476.7" r="1.97"/><circle class="w1" cx="482.5" r="1.93"/></g>
<g transform="translate(0,557.4)"><circle class="w2" cx="315.6" r="1.97"/><circle class="w1" cx="317.7" r="1.93"/><circle class="w3" cx="323.2" r="2.00"/><circle class="w3" cx="324.7" r="2.00"/><circle class="w3" cx="326.4" r="2.00"/><circle class="w3" cx="327.6" r="2.00"/><circle class="w2" cx="330.1" r="1.97"/><circle class="w4" cx="332.0" r="2.04"/><circle class="w3" cx="333.5" r="2.00"/><circle class="w4" cx="334.3" r="2.04"/><circle class="w3" cx="336.3" r="2.00"/><circle class="w4" cx="354.0" r="2.04"/><circle class="w2" cx="355.8" r="1.97"/><circle class="w4" cx="358.2" r="2.04"/><circle class="w5" cx="359.3" r="2.07"/><circle class="w4" cx="361.2" r="2.04"/><circle class="w3" cx="366.4" r="2.00"/><circle class="w1" cx="372.0" r="1.93"/><circle class="w4" cx="376.6" r="2.04"/><circle class="w2" cx="378.2" r="1.97"/><circle class="w3" cx="380.0" r="2.00"/><circle class="w4" cx="381.2" r="2.04"/><circle class="w3" cx="383.7" r="2.00"/><circle class="w5" cx="387.8" r="2.07"/><circle class="w6" cx="388.0" r="2.11"/><circle class="w5" cx="390.6" r="2.07"/><circle class="w5" cx="391.6" r="2.07"/><circle class="w3" cx="392.8" r="2.00"/><circle class="w4" cx="393.8" r="2.04"/><circle class="w4" cx="395.7" r="2.04"/><circle class="w3" cx="396.4" r="2.00"/><circle class="w5" cx="398.7" r="2.07"/><circle class="w5" cx="400.1" r="2.07"/><circle class="w1" cx="401.5" r="1.93"/><circle class="w1" cx="404.2" r="1.93"/><circle class="w1" cx="406.8" r="1.93"/><circle class="w2" cx="409.7" r="1.97"/><circle class="w2" cx="411.9" r="1.97"/><circle class="w2" cx="414.8" r="1.97"/><circle class="w2" cx="416.1" r="1.97"/><circle class="w1" cx="419.1" r="1.93"/><circle class="w1" cx="422.0" r="1.93"/><circle class="w1" cx="423.6" r="1.93"/><circle class="w2" cx="443.3" r="1.97"/><circle class="w1" cx="445.9" r="1.93"/><circle class="w2" cx="448.4" r="1.97"/><circle class="w2" cx="450.6" r="1.97"/><circle class="w2" cx="454.9" r="1.97"/></g>
<g transform="translate(0,547.4)"><circle class="w1" cx="327.5" r="1.93"/><circle class="w3" cx="335.5" r="2.00"/><circle class="w4" cx="337.8" r="2.04"/><circle class="w4" cx="338.7" r="2.04"/><circle class="w3" cx="340.9" r="2.00"/><circle class="w1" cx="364.1" r="1.93"/><circle class="w2" cx="366.7" r="1.97"/><circle class="w1" cx="369.4" r="1.93"/><circle class="w2" cx="371.8" r="1.97"/><circle class="w1" cx="374.1" r="1.93"/><circle class="w2" cx="378.4" r="1.97"/><circle class="w2" cx="380.0" r="1.97"/><circle class="w5" cx="380.0" r="2.07"/><circle class="w3" cx="382.4" r="2.00"/><circle class="w3" cx="384.2" r="2.00"/><circle class="w3" cx="385.8" r="2.00"/><circle class="w2" cx="387.7" r="1.97"/><circle class="w5" cx="390.1" r="2.07"/><circle class="w3" cx="391.7" r="2.00"/><circle class="w3" cx="393.7" r="2.00"/><circle class="w3" cx="397.0" r="2.00"/><circle class="w5" cx="399.0" r="2.07"/><circle class="w2" cx="400.8" r="1.97"/><circle class="w6" cx="403.0" r="2.11"/><circle class="w8" cx="405.0" r="2.18"/><circle class="w3" cx="406.2" r="2.00"/><circle class="w4" cx="408.6" r="2.04"/><circle class="w2" cx="410.0" r="1.97"/><circle class="w2" cx="412.2" r="1.97"/><circle class="w4" cx="417.0" r="2.04"/><circle class="w2" cx="423.0" r="1.97"/><circle class="w1" cx="425.0" r="1.93"/><circle class="w1" cx="429.6" r="1.93"/><circle class="w2" cx="432.9" r="1.97"/><circle class="w1" cx="457.1" r="1.93"/><circle class="w1" cx="462.1" r="1.93"/><circle class="w1" cx="465.6" r="1.93"/><circle class="w1" cx="482.8" r="1.93"/><circle class="w4" cx="490.0" r="2.04"/><circle class="w1" cx="495.4" r="1.93"/></g>
<g transform="translate(0,537.4)"><circle class="w2" cx="327.5" r="1.97"/><circle class="w2" cx="328.7" r="1.97"/><circle class="w3" cx="330.5" r="2.00"/><circle class="w2" cx="331.9" r="1.97"/><circle class="w1" cx="334.0" r="1.93"/><circle class="w6" cx="339.8" r="2.11"/><circle class="w6" cx="341.1" r="2.11"/><circle class="w8" cx="342.6" r="2.18"/><circle class="w5" cx="344.4" r="2.07"/><circle class="w3" cx="345.5" r="2.00"/><circle class="w8" cx="347.8" r="2.18"/><circle class="w1" cx="349.3" r="1.93"/><circle class="w1" cx="354.4" r="1.93"/><circle class="w1" cx="357.2" r="1.93"/><circle class="w1" cx="360.4" r="1.93"/><circle class="w4" cx="362.5" r="2.04"/><circle class="w2" cx="363.2" r="1.97"/><circle class="w5" cx="364.9" r="2.07"/><circle class="w3" cx="367.1" r="2.00"/><circle class="w2" cx="369.5" r="1.97"/><circle class="w4" cx="371.4" r="2.04"/><circle class="w8" cx="372.1" r="2.18"/><circle class="w12" cx="373.0" r="2.32"/><circle class="w10" cx="374.6" r="2.25"/><circle class="w8" cx="375.7" r="2.18"/><circle class="w14" cx="376.4" r="2.32"/><circle class="w10" cx="378.0" r="2.25"/><circle class="w8" cx="379.0" r="2.18"/><circle class="w8" cx="379.9" r="2.18"/><circle class="w10" cx="380.5" r="2.25"/><circle class="w10" cx="382.1" r="2.25"/><circle class="w8" cx="382.7" r="2.18"/><circle class="w12" cx="383.6" r="2.32"/><circle class="w10" cx="384.4" r="2.25"/><circle class="w8" cx="385.6" r="2.18"/><circle class="w10" cx="387.0" r="2.25"/><circle class="w12" cx="387.8" r="2.32"/><circle class="w10" cx="389.0" r="2.25"/><circle class="w10" cx="390.1" r="2.25"/><circle class="w8" cx="391.3" r="2.18"/><circle class="w10" cx="392.4" r="2.25"/><circle class="w8" cx="393.4" r="2.18"/><circle class="w8" cx="393.8" r="2.18"/><circle class="w14" cx="395.6" r="2.32"/><circle class="w10" cx="396.1" r="2.25"/><circle class="w10" cx="397.3" r="2.25"/><circle class="w14" cx="398.5" r="2.32"/><circle class="w12" cx="399.6" r="2.32"/><circle class="w8" cx="400.2" r="2.18"/><circle class="w8" cx="401.3" r="2.18"/><circle class="w14" cx="402.0" r="2.32"/><circle class="w14" cx="403.6" r="2.32"/><circle class="w10" cx="404.3" r="2.25"/><circle class="w10" cx="405.4" r="2.25"/><circle class="w14" cx="406.1" r="2.32"/><circle class="w12" cx="407.5" r="2.32"/><circle class="w14" cx="408.5" r="2.32"/><circle class="w8" cx="409.7" r="2.18"/><circle class="w14" cx="410.7" r="2.32"/><circle class="w14" cx="411.5" r="2.32"/><circle class="w10" cx="412.7" r="2.25"/><circle class="w8" cx="413.8" r="2.18"/><circle class="w12" cx="414.7" r="2.32"/><circle class="w12" cx="416.0" r="2.32"/><circle class="w12" cx="417.2" r="2.32"/><circle class="w14" cx="418.1" r="2.32"/><circle class="w10" cx="419.2" r="2.25"/><circle class="w8" cx="420.8" r="2.18"/><circle class="w14" cx="421.9" r="2.32"/><circle class="w8" cx="422.6" r="2.18"/><circle class="w12" cx="423.6" r="2.32"/><circle class="w5" cx="424.0" r="2.07"/><circle class="w8" cx="425.4" r="2.18"/><circle class="w5" cx="426.8" r="2.07"/><circle class="w8" cx="428.4" r="2.18"/><circle class="w5" cx="430.3" r="2.07"/><circle class="w6" cx="431.3" r="2.11"/><circle class="w3" cx="432.4" r="2.00"/><circle class="w5" cx="434.1" r="2.07"/><circle class="w5" cx="435.2" r="2.07"/><circle class="w3" cx="437.3" r="2.00"/><circle class="w3" cx="438.8" r="2.00"/><circle class="w4" cx="440.1" r="2.04"/><circle class="w6" cx="441.6" r="2.11"/><circle class="w4" cx="443.2" r="2.04"/><circle class="w3" cx="445.1" r="2.00"/><circle class="w3" cx="445.4" r="2.00"/><circle class="w3" cx="447.3" r="2.00"/><circle class="w3" cx="448.0" r="2.00"/><circle class="w3" cx="449.7" r="2.00"/><circle class="w4" cx="452.1" r="2.04"/><circle class="w4" cx="453.0" r="2.04"/><circle class="w3" cx="455.2" r="2.00"/><circle class="w3" cx="456.6" r="2.00"/><circle class="w4" cx="458.2" r="2.04"/><circle class="w2" cx="460.1" r="1.97"/><circle class="w5" cx="462.0" r="2.07"/><circle class="w2" cx="463.1" r="1.97"/><circle class="w4" cx="464.9" r="2.04"/><circle class="w2" cx="466.5" r="1.97"/><circle class="w3" cx="469.3" r="2.00"/><circle class="w3" cx="471.2" r="2.00"/><circle class="w5" cx="472.4" r="2.07"/><circle class="w3" cx="475.7" r="2.00"/><circle class="w5" cx="477.2" r="2.07"/><circle class="w3" cx="478.8" r="2.00"/><circle class="w7" cx="481.2" r="2.15"/><circle class="w7" cx="486.0" r="2.15"/><circle class="w7" cx="490.7" r="2.15"/><circle class="w4" cx="496.6" r="2.04"/><circle class="w2" cx="501.4" r="1.97"/><circle class="w7" cx="506.8" r="2.15"/><circle class="w2" cx="513.2" r="1.97"/><circle class="w2" cx="517.5" r="1.97"/><circle class="w2" cx="523.9" r="1.97"/><circle class="w1" cx="537.0" r="1.93"/><circle class="w2" cx="541.2" r="1.97"/><circle class="w1" cx="550.5" r="1.93"/><circle class="w1" cx="555.4" r="1.93"/><circle class="w1" cx="565.4" r="1.93"/><circle class="w2" cx="575.4" r="1.97"/><circle class="w1" cx="614.5" r="1.93"/></g>
<g transform="translate(0,525.4)"><circle class="w1" cx="336.2" r="1.93"/><circle class="w1" cx="339.1" r="1.93"/><circle class="w2" cx="347.7" r="1.97"/><circle class="w2" cx="350.5" r="1.97"/><circle class="w1" cx="376.6" r="1.93"/><circle class="w1" cx="381.8" r="1.93"/><circle class="w2" cx="395.6" r="1.97"/><circle class="w1" cx="398.0" r="1.93"/><circle class="w3" cx="398.7" r="2.00"/><circle class="w1" cx="400.4" r="1.93"/><circle class="w1" cx="406.2" r="1.93"/><circle class="w1" cx="410.4" r="1.93"/><circle class="w1" cx="412.2" r="1.93"/><circle class="w2" cx="413.6" r="1.97"/><circle class="w2" cx="415.4" r="1.97"/><circle class="w2" cx="418.6" r="1.97"/><circle class="w6" cx="423.0" r="2.11"/><circle class="w5" cx="424.6" r="2.07"/><circle class="w5" cx="425.4" r="2.07"/><circle class="w5" cx="426.6" r="2.07"/><circle class="w5" cx="428.0" r="2.07"/><circle class="w1" cx="434.2" r="1.93"/><circle class="w1" cx="441.8" r="1.93"/><circle class="w1" cx="447.8" r="1.93"/><circle class="w1" cx="463.2" r="1.93"/><circle class="w1" cx="465.6" r="1.93"/><circle class="w1" cx="473.2" r="1.93"/><circle class="w1" cx="477.0" r="1.93"/><circle class="w1" cx="486.4" r="1.93"/><circle class="w1" cx="490.7" r="1.93"/><circle class="w3" cx="500.6" r="2.00"/></g>
<g transform="translate(0,515.4)"><circle class="w6" cx="348.5" r="2.11"/><circle class="w4" cx="349.4" r="2.04"/><circle class="w8" cx="351.5" r="2.18"/><circle class="w4" cx="353.7" r="2.04"/><circle class="w4" cx="355.4" r="2.04"/><circle class="w6" cx="356.3" r="2.11"/><circle class="w1" cx="356.4" r="1.93"/><circle class="w1" cx="359.8" r="1.93"/><circle class="w2" cx="408.0" r="1.97"/><circle class="w1" cx="409.4" r="1.93"/><circle class="w2" cx="413.6" r="1.97"/><circle class="w1" cx="414.7" r="1.93"/><circle class="w2" cx="418.4" r="1.97"/><circle class="w1" cx="419.3" r="1.93"/><circle class="w1" cx="423.5" r="1.93"/><circle class="w4" cx="425.0" r="2.04"/><circle class="w4" cx="426.4" r="2.04"/><circle class="w4" cx="428.8" r="2.04"/><circle class="w5" cx="430.1" r="2.07"/><circle class="w3" cx="433.0" r="2.00"/><circle class="w3" cx="433.8" r="2.00"/><circle class="w2" cx="438.3" r="1.97"/><circle class="w1" cx="445.4" r="1.93"/><circle class="w1" cx="450.0" r="1.93"/><circle class="w1" cx="453.0" r="1.93"/><circle class="w1" cx="458.7" r="1.93"/><circle class="w1" cx="478.6" r="1.93"/><circle class="w2" cx="483.6" r="1.97"/><circle class="w1" cx="488.3" r="1.93"/><circle class="w1" cx="493.0" r="1.93"/><circle class="w1" cx="497.8" r="1.93"/><circle class="w4" cx="503.7" r="2.04"/><circle class="w1" cx="508.5" r="1.93"/><circle class="w1" cx="514.4" r="1.93"/></g>
<g transform="translate(0,505.4)"><circle class="w1" cx="355.2" r="1.93"/><circle class="w4" cx="359.3" r="2.04"/><circle class="w5" cx="360.1" r="2.07"/><circle class="w5" cx="361.7" r="2.07"/><circle class="w6" cx="363.2" r="2.11"/><circle class="w5" cx="364.4" r="2.07"/><circle class="w1" cx="390.4" r="1.93"/><circle class="w1" cx="413.4" r="1.93"/><circle class="w2" cx="418.8" r="1.97"/><circle class="w2" cx="420.9" r="1.97"/><circle class="w2" cx="423.9" r="1.97"/><circle class="w2" cx="425.6" r="1.97"/><circle class="w2" cx="427.6" r="1.97"/><circle class="w1" cx="431.1" r="1.93"/><circle class="w2" cx="432.0" r="1.97"/><circle class="w2" cx="433.5" r="1.97"/><circle class="w2" cx="435.2" r="1.97"/><circle class="w3" cx="438.1" r="2.00"/><circle class="w2" cx="439.8" r="1.97"/><circle class="w2" cx="441.7" r="1.97"/><circle class="w5" cx="443.2" r="2.07"/><circle class="w2" cx="451.3" r="1.97"/><circle class="w1" cx="454.7" r="1.93"/><circle class="w1" cx="455.8" r="1.93"/><circle class="w1" cx="459.1" r="1.93"/><circle class="w2" cx="465.6" r="1.97"/><circle class="w2" cx="467.9" r="1.97"/><circle class="w1" cx="505.6" r="1.93"/><circle class="w1" cx="508.5" r="1.93"/><circle class="w1" cx="512.0" r="1.93"/><circle class="w1" cx="514.4" r="1.93"/><circle class="w1" cx="516.8" r="1.93"/><circle class="w1" cx="518.7" r="1.93"/><circle class="w1" cx="531.7" r="1.93"/><circle class="w1" cx="533.4" r="1.93"/></g>
<g transform="translate(0,495.4)"><circle class="w2" cx="361.4" r="1.97"/><circle class="w4" cx="363.4" r="2.04"/><circle class="w3" cx="364.8" r="2.00"/><circle class="w2" cx="366.2" r="1.97"/><circle class="w4" cx="369.2" r="2.04"/><circle class="w3" cx="370.7" r="2.00"/><circle class="w3" cx="372.0" r="2.00"/><circle class="w1" cx="380.2" r="1.93"/><circle class="w1" cx="395.0" r="1.93"/><circle class="w1" cx="419.3" r="1.93"/><circle class="w1" cx="422.9" r="1.93"/><circle class="w2" cx="431.9" r="1.97"/><circle class="w1" cx="433.3" r="1.93"/><circle class="w1" cx="436.1" r="1.93"/><circle class="w2" cx="438.0" r="1.97"/><circle class="w4" cx="439.5" r="2.04"/><circle class="w2" cx="440.7" r="1.97"/><circle class="w2" cx="442.4" r="1.97"/><circle class="w3" cx="444.8" r="2.00"/><circle class="w5" cx="446.6" r="2.07"/><circle class="w1" cx="451.3" r="1.93"/><circle class="w1" cx="453.8" r="1.93"/><circle class="w1" cx="456.0" r="1.93"/><circle class="w1" cx="458.2" r="1.93"/><circle class="w1" cx="461.5" r="1.93"/><circle class="w2" cx="462.6" r="1.97"/><circle class="w2" cx="465.8" r="1.97"/><circle class="w2" cx="466.8" r="1.97"/><circle class="w1" cx="470.7" r="1.93"/><circle class="w1" cx="472.8" r="1.93"/><circle class="w4" cx="479.5" r="2.04"/><circle class="w2" cx="515.6" r="1.97"/><circle class="w2" cx="518.0" r="1.97"/><circle class="w3" cx="520.8" r="2.00"/><circle class="w1" cx="533.4" r="1.93"/><circle class="w1" cx="542.4" r="1.93"/><circle class="w1" cx="549.3" r="1.93"/><circle class="w1" cx="553.5" r="1.93"/></g>
<g transform="translate(0,485.4)"><circle class="w6" cx="374.9" r="2.11"/><circle class="w1" cx="381.3" r="1.93"/><circle class="w1" cx="387.3" r="1.93"/><circle class="w1" cx="390.8" r="1.93"/><circle class="w2" cx="426.4" r="1.97"/><circle class="w3" cx="443.0" r="2.00"/><circle class="w3" cx="445.5" r="2.00"/><circle class="w2" cx="446.7" r="1.97"/><circle class="w3" cx="449.1" r="2.00"/><circle class="w3" cx="450.2" r="2.00"/><circle class="w2" cx="452.5" r="1.97"/><circle class="w1" cx="456.0" r="1.93"/><circle class="w4" cx="464.4" r="2.04"/><circle class="w1" cx="472.0" r="1.93"/><circle class="w1" cx="482.0" r="1.93"/><circle class="w1" cx="488.0" r="1.93"/><circle class="w2" cx="489.5" r="1.97"/><circle class="w2" cx="494.2" r="1.97"/><circle class="w1" cx="516.8" r="1.93"/><circle class="w2" cx="521.5" r="1.97"/><circle class="w1" cx="524.6" r="1.93"/><circle class="w1" cx="546.4" r="1.93"/><circle class="w1" cx="550.5" r="1.93"/><circle class="w1" cx="570.4" r="1.93"/></g>
<g transform="translate(0,475.4)"><circle class="w3" cx="379.0" r="2.00"/><circle class="w4" cx="380.5" r="2.04"/><circle class="w3" cx="382.6" r="2.00"/><circle class="w3" cx="383.7" r="2.00"/><circle class="w1" cx="390.8" r="1.93"/><circle class="w1" cx="394.2" r="1.93"/><circle class="w1" cx="411.5" r="1.93"/><circle class="w1" cx="428.3" r="1.93"/><circle class="w1" cx="439.6" r="1.93"/><circle class="w1" cx="443.2" r="1.93"/><circle class="w1" cx="452.5" r="1.93"/><circle class="w2" cx="455.4" r="1.97"/><circle class="w4" cx="460.1" r="2.04"/><circle class="w4" cx="460.5" r="2.04"/><circle class="w3" cx="462.6" r="2.00"/><circle class="w2" cx="464.9" r="1.97"/><circle class="w2" cx="466.8" r="1.97"/><circle class="w2" cx="467.5" r="1.97"/><circle class="w2" cx="471.5" r="1.97"/><circle class="w1" cx="486.4" r="1.93"/><circle class="w2" cx="493.5" r="1.97"/><circle class="w2" cx="495.4" r="1.97"/><circle class="w2" cx="504.4" r="1.97"/><circle class="w2" cx="506.8" r="1.97"/><circle class="w2" cx="509.2" r="1.97"/><circle class="w1" cx="525.0" r="1.93"/><circle class="w1" cx="529.0" r="1.93"/><circle class="w1" cx="555.4" r="1.93"/><circle class="w1" cx="617.6" r="1.93"/></g>
<g transform="translate(0,465.4)"><circle class="w2" cx="385.8" r="1.97"/><circle class="w2" cx="387.7" r="1.97"/><circle class="w1" cx="390.4" r="1.93"/><circle class="w1" cx="393.1" r="1.93"/><circle class="w2" cx="395.3" r="1.97"/><circle class="w1" cx="398.6" r="1.93"/><circle class="w1" cx="400.8" r="1.93"/><circle class="w1" cx="408.0" r="1.93"/><circle class="w7" cx="412.7" r="2.15"/><circle class="w3" cx="418.0" r="2.00"/><circle class="w3" cx="418.7" r="2.00"/><circle class="w5" cx="420.4" r="2.07"/><circle class="w5" cx="422.7" r="2.07"/><circle class="w5" cx="424.5" r="2.07"/><circle class="w3" cx="426.0" r="2.00"/><circle class="w3" cx="427.8" r="2.00"/><circle class="w3" cx="429.7" r="2.00"/><circle class="w3" cx="431.8" r="2.00"/><circle class="w5" cx="433.3" r="2.07"/><circle class="w3" cx="434.9" r="2.00"/><circle class="w4" cx="436.4" r="2.04"/><circle class="w4" cx="437.0" r="2.04"/><circle class="w8" cx="439.1" r="2.18"/><circle class="w6" cx="439.9" r="2.11"/><circle class="w5" cx="441.4" r="2.07"/><circle class="w4" cx="443.6" r="2.04"/><circle class="w5" cx="445.4" r="2.07"/><circle class="w5" cx="446.1" r="2.07"/><circle class="w4" cx="447.9" r="2.04"/><circle class="w5" cx="450.1" r="2.07"/><circle class="w5" cx="452.0" r="2.07"/><circle class="w6" cx="453.2" r="2.11"/><circle class="w8" cx="454.9" r="2.18"/><circle class="w5" cx="456.6" r="2.07"/><circle class="w5" cx="457.7" r="2.07"/><circle class="w4" cx="459.7" r="2.04"/><circle class="w5" cx="460.9" r="2.07"/><circle class="w3" cx="463.2" r="2.00"/><circle class="w4" cx="465.9" r="2.04"/><circle class="w3" cx="466.6" r="2.00"/><circle class="w3" cx="468.9" r="2.00"/><circle class="w3" cx="470.4" r="2.00"/><circle class="w2" cx="473.0" r="1.97"/><circle class="w3" cx="473.9" r="2.00"/><circle class="w3" cx="475.6" r="2.00"/><circle class="w8" cx="480.0" r="2.18"/><circle class="w6" cx="482.5" r="2.11"/><circle class="w3" cx="483.2" r="2.00"/><circle class="w5" cx="484.6" r="2.07"/><circle class="w8" cx="486.6" r="2.18"/><circle class="w8" cx="487.8" r="2.18"/><circle class="w5" cx="489.9" r="2.07"/><circle class="w2" cx="494.2" r="1.97"/><circle class="w4" cx="499.2" r="2.04"/><circle class="w8" cx="500.4" r="2.18"/><circle class="w8" cx="501.7" r="2.18"/><circle class="w8" cx="503.6" r="2.18"/><circle class="w4" cx="509.7" r="2.04"/><circle class="w4" cx="515.1" r="2.04"/><circle class="w1" cx="518.7" r="1.93"/><circle class="w2" cx="529.3" r="1.97"/><circle class="w2" cx="534.6" r="1.97"/><circle class="w1" cx="539.3" r="1.93"/><circle class="w1" cx="557.3" r="1.93"/><circle class="w3" cx="578.9" r="2.00"/><circle class="w1" cx="593.4" r="1.93"/><circle class="w3" cx="599.3" r="2.00"/></g>
<g transform="translate(0,453.4)"><circle class="w4" cx="390.8" r="2.04"/><circle class="w1" cx="403.4" r="1.93"/><circle class="w1" cx="408.1" r="1.93"/><circle class="w2" cx="412.2" r="1.97"/><circle class="w1" cx="456.0" r="1.93"/><circle class="w1" cx="460.8" r="1.93"/><circle class="w1" cx="475.0" r="1.93"/><circle class="w1" cx="479.8" r="1.93"/><circle class="w1" cx="490.7" r="1.93"/><circle class="w1" cx="497.8" r="1.93"/><circle class="w1" cx="503.3" r="1.93"/><circle class="w1" cx="507.3" r="1.93"/><circle class="w1" cx="520.3" r="1.93"/><circle class="w1" cx="527.5" r="1.93"/><circle class="w1" cx="532.2" r="1.93"/><circle class="w2" cx="538.8" r="1.97"/><circle class="w1" cx="544.5" r="1.93"/><circle class="w2" cx="548.8" r="1.97"/><circle class="w1" cx="556.4" r="1.93"/><circle class="w1" cx="574.4" r="1.93"/></g>
<g transform="translate(0,443.4)"><circle class="w4" cx="392.4" r="2.04"/><circle class="w3" cx="398.3" r="2.00"/><circle class="w1" cx="419.5" r="1.93"/><circle class="w1" cx="435.3" r="1.93"/><circle class="w1" cx="467.4" r="1.93"/><circle class="w4" cx="481.6" r="2.04"/><circle class="w3" cx="487.5" r="2.00"/><circle class="w1" cx="493.0" r="1.93"/><circle class="w2" cx="510.9" r="1.97"/><circle class="w1" cx="541.2" r="1.93"/><circle class="w1" cx="574.4" r="1.93"/><circle class="w1" cx="604.5" r="1.93"/><circle class="w1" cx="611.3" r="1.93"/></g>
<g transform="translate(0,433.4)"><circle class="w3" cx="400.2" r="2.00"/><circle class="w5" cx="403.7" r="2.07"/><circle class="w1" cx="428.4" r="1.93"/><circle class="w1" cx="463.5" r="1.93"/><circle class="w1" cx="468.5" r="1.93"/><circle class="w1" cx="479.6" r="1.93"/><circle class="w1" cx="482.5" r="1.93"/><circle class="w1" cx="492.7" r="1.93"/><circle class="w3" cx="497.4" r="2.00"/><circle class="w1" cx="550.3" r="1.93"/><circle class="w1" cx="560.5" r="1.93"/><circle class="w1" cx="565.5" r="1.93"/><circle class="w1" cx="578.3" r="1.93"/><circle class="w1" cx="587.5" r="1.93"/></g>
<g transform="translate(0,423.4)"><circle class="w2" cx="405.6" r="1.97"/><circle class="w1" cx="407.3" r="1.93"/><circle class="w1" cx="431.5" r="1.93"/><circle class="w1" cx="460.4" r="1.93"/><circle class="w1" cx="512.9" r="1.93"/><circle class="w2" cx="518.1" r="1.97"/><circle class="w1" cx="522.3" r="1.93"/><circle class="w1" cx="550.3" r="1.93"/></g>
<g transform="translate(0,413.4)"><circle class="w3" cx="409.2" r="2.00"/><circle class="w3" cx="412.5" r="2.00"/><circle class="w2" cx="433.9" r="1.97"/><circle class="w1" cx="488.4" r="1.93"/><circle class="w2" cx="530.7" r="1.97"/><circle class="w1" cx="587.3" r="1.93"/><circle class="w1" cx="599.2" r="1.93"/></g>
<g transform="translate(0,403.4)"><circle class="w2" cx="414.9" r="1.97"/><circle class="w1" cx="443.3" r="1.93"/><circle class="w3" cx="506.5" r="2.00"/><circle class="w1" cx="546.5" r="1.93"/><circle class="w1" cx="566.5" r="1.93"/></g>
<g transform="translate(0,391.4)"><circle class="w3" cx="416.1" r="2.00"/><circle class="w1" cx="419.9" r="1.93"/><circle class="w1" cx="429.3" r="1.93"/><circle class="w1" cx="444.5" r="1.93"/><circle class="w2" cx="450.5" r="1.97"/><circle class="w3" cx="454.7" r="2.00"/><circle class="w1" cx="460.7" r="1.93"/><circle class="w1" cx="463.5" r="1.93"/><circle class="w1" cx="471.3" r="1.93"/><circle class="w2" cx="474.9" r="1.97"/><circle class="w2" cx="477.3" r="1.97"/><circle class="w2" cx="485.1" r="1.97"/><circle class="w1" cx="488.7" r="1.93"/><circle class="w1" cx="493.4" r="1.93"/><circle class="w2" cx="496.3" r="1.97"/><circle class="w2" cx="498.6" r="1.97"/><circle class="w2" cx="506.5" r="1.97"/><circle class="w1" cx="509.3" r="1.93"/><circle class="w2" cx="515.2" r="1.97"/><circle class="w2" cx="517.6" r="1.97"/><circle class="w2" cx="520.5" r="1.97"/><circle class="w1" cx="528.8" r="1.93"/><circle class="w3" cx="534.2" r="2.00"/><circle class="w2" cx="547.3" r="1.97"/><circle class="w2" cx="549.6" r="1.97"/><circle class="w1" cx="555.6" r="1.93"/><circle class="w1" cx="558.4" r="1.93"/><circle class="w3" cx="602.7" r="2.00"/><circle class="w1" cx="611.5" r="1.93"/><circle class="w1" cx="616.5" r="1.93"/></g>
<g transform="translate(0,381.4)"><circle class="w2" cx="423.9" r="1.97"/><circle class="w3" cx="559.6" r="2.00"/></g>
<g transform="translate(0,371.4)"><circle class="w1" cx="429.8" r="1.93"/><circle class="w3" cx="434.1" r="2.00"/><circle class="w1" cx="444.5" r="1.93"/><circle class="w1" cx="503.4" r="1.93"/><circle class="w1" cx="556.3" r="1.93"/><circle class="w1" cx="619.3" r="1.93"/></g>
<g transform="translate(0,361.4)"><circle class="w1" cx="436.5" r="1.93"/><circle class="w2" cx="441.4" r="1.97"/><circle class="w1" cx="520.5" r="1.93"/><circle class="w1" cx="541.3" r="1.93"/><circle class="w1" cx="646.4" r="1.93"/></g>
<g transform="translate(0,351.4)"><circle class="w1" cx="448.8" r="1.93"/><circle class="w1" cx="452.4" r="1.93"/><circle class="w1" cx="584.2" r="1.93"/><circle class="w1" cx="653.3" r="1.93"/></g>
<g transform="translate(0,341.4)"><circle class="w1" cx="455.2" r="1.93"/><circle class="w1" cx="463.5" r="1.93"/><circle class="w1" cx="472.3" r="1.93"/><circle class="w1" cx="616.3" r="1.93"/></g>
<g transform="translate(0,331.4)"><circle class="w1" cx="480.4" r="1.93"/><circle class="w1" cx="485.1" r="1.93"/><circle class="w1" cx="489.1" r="1.93"/><circle class="w1" cx="569.1" r="1.93"/><circle class="w2" cx="571.0" r="1.97"/><circle class="w1" cx="623.4" r="1.93"/><circle class="w1" cx="655.4" r="1.93"/><circle class="w1" cx="661.3" r="1.93"/><circle class="w1" cx="667.5" r="1.93"/></g>
<g transform="translate(0,319.4)"><circle class="w1" cx="676.3" r="1.93"/></g>
<g transform="translate(0,309.4)"><circle class="w2" cx="444.3" r="1.97"/><circle class="w1" cx="478.5" r="1.93"/><circle class="w1" cx="483.4" r="1.93"/><circle class="w1" cx="489.1" r="1.93"/><circle class="w1" cx="506.5" r="1.93"/><circle class="w1" cx="510.5" r="1.93"/><circle class="w1" cx="527.3" r="1.93"/><circle class="w1" cx="534.2" r="1.93"/><circle class="w3" cx="537.3" r="2.00"/><circle class="w2" cx="544.2" r="1.97"/><circle class="w2" cx="546.1" r="1.97"/><circle class="w1" cx="552.5" r="1.93"/><circle class="w2" cx="563.9" r="1.97"/><circle class="w1" cx="567.4" r="1.93"/><circle class="w1" cx="576.4" r="1.93"/><circle class="w1" cx="582.3" r="1.93"/><circle class="w1" cx="589.5" r="1.93"/><circle class="w1" cx="600.4" r="1.93"/><circle class="w1" cx="619.3" r="1.93"/><circle class="w1" cx="703.3" r="1.93"/></g>
<g transform="translate(0,299.4)"><circle class="w1" cx="495.5" r="1.93"/><circle class="w1" cx="500.5" r="1.93"/></g>
<g transform="translate(0,289.4)"><circle class="w3" cx="504.4" r="2.00"/><circle class="w1" cx="565.4" r="1.93"/></g>
<g transform="translate(0,279.4)"><circle class="w1" cx="510.4" r="1.93"/><circle class="w1" cx="517.5" r="1.93"/></g>
<g transform="translate(0,259.4)"><circle class="w1" cx="520.3" r="1.93"/><circle class="w1" cx="537.4" r="1.93"/></g>
<g transform="translate(0,247.4)"><circle class="w1" cx="537.4" r="1.93"/><circle class="w1" cx="541.4" r="1.93"/></g>
<g transform="translate(0,237.4)"><circle class="w1" cx="543.3" r="1.93"/><circle class="w1" cx="562.3" r="1.93"/><circle class="w1" cx="569.2" r="1.93"/></g>
<g transform="translate(0,227.4)"><circle class="w1" cx="565.4" r="1.93"/><circle class="w1" cx="569.2" r="1.93"/><circle class="w1" cx="577.3" r="1.93"/><circle class="w2" cx="593.4" r="1.97"/><circle class="w1" cx="604.3" r="1.93"/><circle class="w2" cx="658.4" r="1.97"/></g>
<g transform="translate(0,207.4)"><circle class="w1" cx="594.6" r="1.93"/></g>
<g transform="translate(0,197.4)"><circle class="w1" cx="600.5" r="1.93"/></g>
<g transform="translate(0,175.4)"><circle class="w1" cx="604.3" r="1.93"/></g>
<g transform="translate(0,145.4)"><circle class="w2" cx="611.4" r="1.97"/></g>
<path d="M38.5 900.27L853.5 90.53" stroke="#0000ff" stroke-opacity=".35" stroke-width="4.17" fill="none"/>
</g>
<g class="tk"><path d="M93.5 880.5v4.9M58.5 845.5h-4.9"/><path d="M194.5 880.5v4.9M58.5 745.5h-4.9"/><path d="M295.5 880.5v4.9M58.5 645.5h-4.9"/><path d="M395.5 880.5v4.9M58.5 545.5h-4.9"/><path d="M496.5 880.5v4.9M58.5 445.5h-4.9"/><path d="M597.5 880.5v4.9M58.5 345.5h-4.9"/><path d="M697.5 880.5v4.9M58.5 245.5h-4.9"/><path d="M798.5 880.5v4.9M58.5 145.5h-4.9"/></g>
<rect x="58.5" y="110.5" width="775.0" height="770.0" fill="none" stroke="#000" stroke-width="1.11"/>
<g opacity=".999"><g class="tl"><text x="94.5" y="900.8" text-anchor="middle">0</text><text x="48.80" y="849.85" text-anchor="end">0</text><text x="194.5" y="900.8" text-anchor="middle">5</text><text x="48.30" y="749.85" text-anchor="end">5</text><text x="294.3" y="900.8" text-anchor="middle">10</text><text x="47.60" y="649.85" text-anchor="end">10</text><text x="395.2" y="900.8" text-anchor="middle">15</text><text x="48.30" y="549.85" text-anchor="end">15</text><text x="495.8" y="900.8" text-anchor="middle">20</text><text x="48.80" y="450.80" text-anchor="end">20</text><text x="597.1" y="900.8" text-anchor="middle">25</text><text x="48.30" y="349.85" text-anchor="end">25</text><text x="696.0" y="900.8" text-anchor="middle">30</text><text x="47.60" y="249.85" text-anchor="end">30</text><text x="797.3" y="900.8" text-anchor="middle">35</text><text x="48.05" y="149.85" text-anchor="end">35</text></g>
<text class="t" x="433" y="24.7" text-anchor="middle">Q-Q plot for wind speed at 10m agl</text>
<text class="t" x="433" y="47.4" text-anchor="middle">from rav2-87-88 during autumn</text>
<text class="al" x="445.2" y="920.7" text-anchor="middle">Simulated</text>
<text class="al" stroke="#000" stroke-width=".3" transform="translate(22.2,496.4) rotate(-90)" text-anchor="middle">Observed</text></g>
</svg>
</body></html>
